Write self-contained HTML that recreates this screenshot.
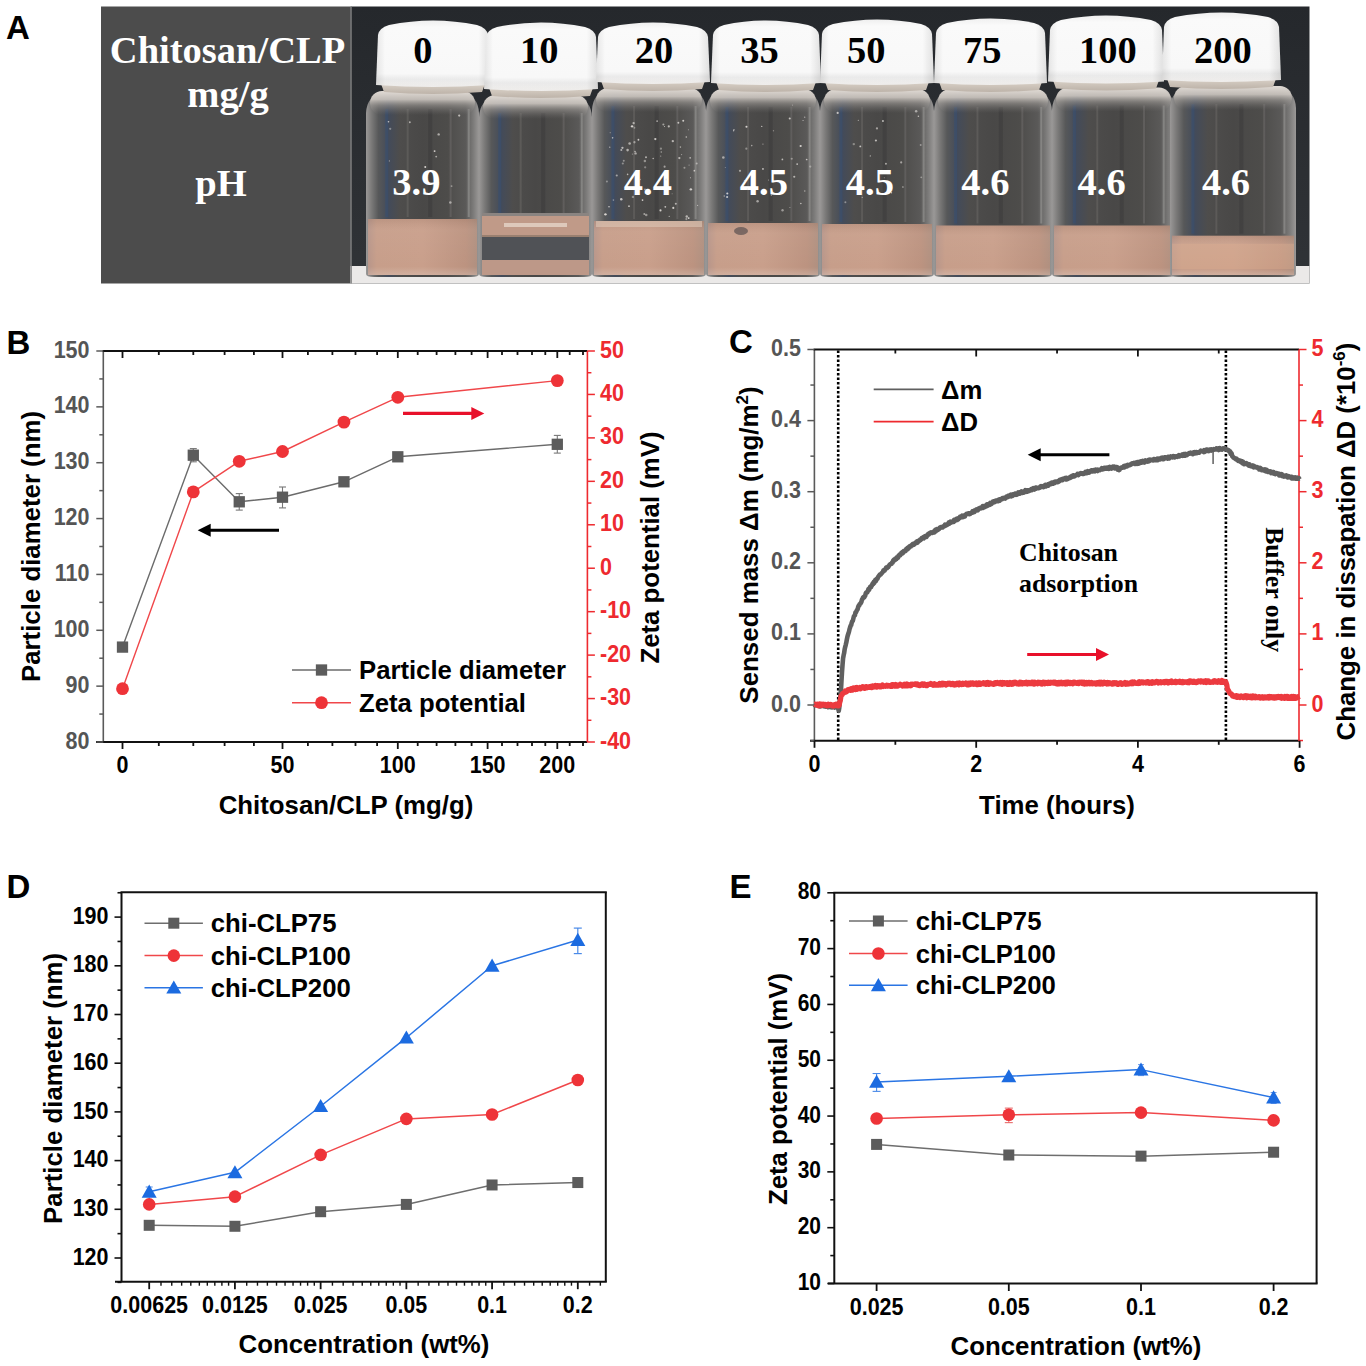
<!DOCTYPE html><html><head><meta charset="utf-8"><style>html,body{margin:0;padding:0;background:#fff;width:1366px;height:1366px;overflow:hidden}svg{display:block}</style></head><body>
<svg width="1366" height="1366" viewBox="0 0 1366 1366">
<rect width="1366" height="1366" fill="#fff"/>
<text x="6.4" y="353.5" font-family="Liberation Sans, sans-serif" font-weight="bold" font-size="33" fill="#000" text-anchor="start" >B</text>
<text x="729" y="353.3" font-family="Liberation Sans, sans-serif" font-weight="bold" font-size="33" fill="#000" text-anchor="start" >C</text>
<text x="6.4" y="897.7" font-family="Liberation Sans, sans-serif" font-weight="bold" font-size="33" fill="#000" text-anchor="start" >D</text>
<text x="729.5" y="897.7" font-family="Liberation Sans, sans-serif" font-weight="bold" font-size="33" fill="#000" text-anchor="start" >E</text>
<text x="6" y="39" font-family="Liberation Sans, sans-serif" font-weight="bold" font-size="33" fill="#000" text-anchor="start" >A</text>
<defs>
<linearGradient id="bgA" x1="0" y1="0" x2="0" y2="1"><stop offset="0" stop-color="#25282c"/><stop offset="0.6" stop-color="#2c2f33"/><stop offset="1" stop-color="#303337"/></linearGradient>
<linearGradient id="capG" x1="0" y1="0" x2="0" y2="1"><stop offset="0" stop-color="#f4f4f4"/><stop offset="0.1" stop-color="#ffffff"/><stop offset="0.8" stop-color="#fdfdfd"/><stop offset="0.88" stop-color="#efefef"/><stop offset="1" stop-color="#f4f2f0"/></linearGradient>
<linearGradient id="capH" x1="0" y1="0" x2="1" y2="0"><stop offset="0" stop-color="#000" stop-opacity="0.10"/><stop offset="0.08" stop-color="#000" stop-opacity="0.02"/><stop offset="0.9" stop-color="#000" stop-opacity="0.02"/><stop offset="1" stop-color="#000" stop-opacity="0.12"/></linearGradient>
<linearGradient id="ringG" x1="0" y1="0" x2="0" y2="1"><stop offset="0" stop-color="#e3dcd5"/><stop offset="0.5" stop-color="#cfc6bc"/><stop offset="1" stop-color="#bdb3a9"/></linearGradient>
<linearGradient id="glassG" x1="0" y1="0" x2="1" y2="0"><stop offset="0" stop-color="#9a9897"/><stop offset="0.05" stop-color="#7a7978"/><stop offset="0.11" stop-color="#575859"/><stop offset="0.2" stop-color="#434b5a"/><stop offset="0.3" stop-color="#4e4d4c"/><stop offset="0.5" stop-color="#494847"/><stop offset="0.72" stop-color="#4d4c4a"/><stop offset="0.88" stop-color="#5a5958"/><stop offset="0.95" stop-color="#7c7b7a"/><stop offset="1" stop-color="#9a9897"/></linearGradient>
<linearGradient id="shoulderG" x1="0" y1="0" x2="0" y2="1"><stop offset="0" stop-color="#e2dcd6" stop-opacity="1"/><stop offset="0.35" stop-color="#cdc7c1" stop-opacity="0.9"/><stop offset="0.6" stop-color="#9d9995" stop-opacity="0.6"/><stop offset="1" stop-color="#777574" stop-opacity="0"/></linearGradient>
<linearGradient id="liqG" x1="0" y1="0" x2="1" y2="0"><stop offset="0" stop-color="#b8968a"/><stop offset="0.08" stop-color="#c79e8a"/><stop offset="0.5" stop-color="#c99f8b"/><stop offset="0.9" stop-color="#bc9380"/><stop offset="1" stop-color="#b09080"/></linearGradient>
<linearGradient id="liqV" x1="0" y1="0" x2="0" y2="1"><stop offset="0" stop-color="#000" stop-opacity="0.06"/><stop offset="0.2" stop-color="#fff" stop-opacity="0.04"/><stop offset="0.85" stop-color="#fff" stop-opacity="0"/><stop offset="1" stop-color="#fff" stop-opacity="0.18"/></linearGradient>
</defs>
<rect x="101" y="6.5" width="249.5" height="277" fill="#4c4c4c"/>
<rect x="350.5" y="6.5" width="959" height="277" fill="url(#bgA)"/>
<rect x="350.5" y="266" width="959" height="17.5" fill="#ebe9e8"/>
<line x1="351.2" y1="6.5" x2="351.2" y2="283.5" stroke="#7a7a7a" stroke-width="1.2"/>
<path d="M366,274 L366,113 Q367,95 384,92 L461,92 Q478,95 479,113 L479,274 Q479,277 471,277 L374,277 Q366,277 366,274 Z" fill="url(#glassG)"/>

<rect x="385.21" y="109" width="3" height="108" fill="#2d4f80" opacity="0.35"/>
<rect x="406.68" y="109" width="2" height="108" fill="#8a8784" opacity="0.25"/>
<rect x="428.15" y="109" width="4" height="108" fill="#222" opacity="0.18"/>
<rect x="449.62" y="109" width="2" height="108" fill="#9a9794" opacity="0.22"/>
<rect x="467.7" y="109" width="2" height="108" fill="#b0aeac" opacity="0.4"/>
<rect x="370" y="91" width="105" height="24" fill="url(#shoulderG)" rx="12"/>
<rect x="368" y="219" width="109" height="56" fill="url(#liqG)"/>
<rect x="368" y="219" width="109" height="56" fill="url(#liqV)"/>
<path d="M380,81 L486,81 L482,92 Q433.0,96 384,92 Z" fill="url(#ringG)"/>
<path d="M376,85 L378,35 Q379,28 389,25 Q433.0,16 477,25 Q487,28 488,35 L490,85 Q433.0,89 376,85 Z" fill="url(#capG)"/>
<path d="M376,85 L378,35 Q379,28 389,25 Q433.0,16 477,25 Q487,28 488,35 L490,85 Q433.0,89 376,85 Z" fill="url(#capH)"/>
<text x="422.8" y="63" font-family="Liberation Serif, serif" font-weight="bold" font-size="38.5" fill="#000" text-anchor="middle" >0</text>
<text x="416.4" y="195.2" font-family="Liberation Serif, serif" font-weight="bold" font-size="38.5" fill="#fff" text-anchor="middle" >3.9</text>
<path d="M479,274 L479,117 Q480,99 497,96 L574,96 Q591,99 592,117 L592,274 Q592,277 584,277 L487,277 Q479,277 479,274 Z" fill="url(#glassG)"/>

<rect x="498.21" y="113" width="3" height="101" fill="#2d4f80" opacity="0.35"/>
<rect x="519.68" y="113" width="2" height="101" fill="#8a8784" opacity="0.25"/>
<rect x="541.15" y="113" width="4" height="101" fill="#222" opacity="0.18"/>
<rect x="562.62" y="113" width="2" height="101" fill="#9a9794" opacity="0.22"/>
<rect x="580.7" y="113" width="2" height="101" fill="#b0aeac" opacity="0.4"/>
<rect x="483" y="95" width="105" height="24" fill="url(#shoulderG)" rx="12"/>
<rect x="482" y="213" width="107" height="4" fill="#8a8481"/>
<rect x="482" y="216" width="107" height="20" fill="#c09a88"/>
<rect x="504" y="223" width="63" height="4" fill="#e8d8cc" opacity="0.75"/>
<rect x="482" y="235" width="107" height="25" fill="#505256"/>
<rect x="482" y="235" width="107" height="2" fill="#9a8070"/>
<rect x="482" y="260" width="107" height="15" fill="#bd9888"/>
<path d="M488,85 L594,85 L590,96 Q541.0,100 492,96 Z" fill="url(#ringG)"/>
<path d="M484,89 L486,37 Q487,30 497,27 Q541.0,18 585,27 Q595,30 596,37 L598,89 Q541.0,93 484,89 Z" fill="url(#capG)"/>
<path d="M484,89 L486,37 Q487,30 497,27 Q541.0,18 585,27 Q595,30 596,37 L598,89 Q541.0,93 484,89 Z" fill="url(#capH)"/>
<text x="539.2" y="63" font-family="Liberation Serif, serif" font-weight="bold" font-size="38.5" fill="#000" text-anchor="middle" >10</text>
<path d="M592,274 L592,110 Q593,92 610,89 L688,89 Q705,92 706,110 L706,274 Q706,277 698,277 L600,277 Q592,277 592,274 Z" fill="url(#glassG)"/>

<rect x="611.38" y="106" width="3" height="113" fill="#2d4f80" opacity="0.35"/>
<rect x="633.04" y="106" width="2" height="113" fill="#8a8784" opacity="0.25"/>
<rect x="654.7" y="106" width="4" height="113" fill="#222" opacity="0.18"/>
<rect x="676.36" y="106" width="2" height="113" fill="#9a9794" opacity="0.22"/>
<rect x="694.6" y="106" width="2" height="113" fill="#b0aeac" opacity="0.4"/>
<rect x="596" y="88" width="106" height="24" fill="url(#shoulderG)" rx="12"/>
<rect x="594" y="221" width="110" height="54" fill="url(#liqG)"/>
<rect x="594" y="221" width="110" height="54" fill="url(#liqV)"/>
<rect x="596" y="221" width="106" height="6" fill="#ddc8b8" opacity="0.6"/>
<path d="M600,78 L706,78 L702,89 Q653.0,93 604,89 Z" fill="url(#ringG)"/>
<path d="M596,82 L598,37 Q599,30 609,27 Q653.0,18 697,27 Q707,30 708,37 L710,82 Q653.0,86 596,82 Z" fill="url(#capG)"/>
<path d="M596,82 L598,37 Q599,30 609,27 Q653.0,18 697,27 Q707,30 708,37 L710,82 Q653.0,86 596,82 Z" fill="url(#capH)"/>
<text x="654" y="63" font-family="Liberation Serif, serif" font-weight="bold" font-size="38.5" fill="#000" text-anchor="middle" >20</text>
<text x="647.9" y="195.2" font-family="Liberation Serif, serif" font-weight="bold" font-size="38.5" fill="#fff" text-anchor="middle" >4.4</text>
<path d="M706,274 L706,111 Q707,93 724,90 L802,90 Q819,93 820,111 L820,274 Q820,277 812,277 L714,277 Q706,277 706,274 Z" fill="url(#glassG)"/>

<rect x="725.38" y="107" width="3" height="114" fill="#2d4f80" opacity="0.35"/>
<rect x="747.04" y="107" width="2" height="114" fill="#8a8784" opacity="0.25"/>
<rect x="768.7" y="107" width="4" height="114" fill="#222" opacity="0.18"/>
<rect x="790.36" y="107" width="2" height="114" fill="#9a9794" opacity="0.22"/>
<rect x="808.6" y="107" width="2" height="114" fill="#b0aeac" opacity="0.4"/>
<rect x="710" y="89" width="106" height="24" fill="url(#shoulderG)" rx="12"/>
<rect x="708" y="223" width="110" height="52" fill="url(#liqG)"/>
<rect x="708" y="223" width="110" height="52" fill="url(#liqV)"/>
<ellipse cx="741" cy="231" rx="7" ry="4" fill="#5a5050" opacity="0.7"/>
<path d="M715,79 L817,79 L813,90 Q766.0,94 719,90 Z" fill="url(#ringG)"/>
<path d="M711,83 L713,35 Q714,28 724,25 Q766.0,16 808,25 Q818,28 819,35 L821,83 Q766.0,87 711,83 Z" fill="url(#capG)"/>
<path d="M711,83 L713,35 Q714,28 724,25 Q766.0,16 808,25 Q818,28 819,35 L821,83 Q766.0,87 711,83 Z" fill="url(#capH)"/>
<text x="759.5" y="63" font-family="Liberation Serif, serif" font-weight="bold" font-size="38.5" fill="#000" text-anchor="middle" >35</text>
<text x="763.9" y="195.2" font-family="Liberation Serif, serif" font-weight="bold" font-size="38.5" fill="#fff" text-anchor="middle" >4.5</text>
<path d="M820,274 L820,111 Q821,93 838,90 L916,90 Q933,93 934,111 L934,274 Q934,277 926,277 L828,277 Q820,277 820,274 Z" fill="url(#glassG)"/>

<rect x="839.38" y="107" width="3" height="115" fill="#2d4f80" opacity="0.35"/>
<rect x="861.04" y="107" width="2" height="115" fill="#8a8784" opacity="0.25"/>
<rect x="882.7" y="107" width="4" height="115" fill="#222" opacity="0.18"/>
<rect x="904.36" y="107" width="2" height="115" fill="#9a9794" opacity="0.22"/>
<rect x="922.6" y="107" width="2" height="115" fill="#b0aeac" opacity="0.4"/>
<rect x="824" y="89" width="106" height="24" fill="url(#shoulderG)" rx="12"/>
<rect x="822" y="224" width="110" height="51" fill="url(#liqG)"/>
<rect x="822" y="224" width="110" height="51" fill="url(#liqV)"/>
<path d="M824,79 L930,79 L926,90 Q877.0,94 828,90 Z" fill="url(#ringG)"/>
<path d="M820,83 L822,34 Q823,27 833,24 Q877.0,15 921,24 Q931,27 932,34 L934,83 Q877.0,87 820,83 Z" fill="url(#capG)"/>
<path d="M820,83 L822,34 Q823,27 833,24 Q877.0,15 921,24 Q931,27 932,34 L934,83 Q877.0,87 820,83 Z" fill="url(#capH)"/>
<text x="866.2" y="63" font-family="Liberation Serif, serif" font-weight="bold" font-size="38.5" fill="#000" text-anchor="middle" >50</text>
<text x="869.9" y="195.2" font-family="Liberation Serif, serif" font-weight="bold" font-size="38.5" fill="#fff" text-anchor="middle" >4.5</text>
<path d="M934,274 L934,111 Q935,93 952,90 L1034,90 Q1051,93 1052,111 L1052,274 Q1052,277 1044,277 L942,277 Q934,277 934,274 Z" fill="url(#glassG)"/>

<rect x="954.06" y="107" width="3" height="116.5" fill="#2d4f80" opacity="0.35"/>
<rect x="976.48" y="107" width="2" height="116.5" fill="#8a8784" opacity="0.25"/>
<rect x="998.9" y="107" width="4" height="116.5" fill="#222" opacity="0.18"/>
<rect x="1021.32" y="107" width="2" height="116.5" fill="#9a9794" opacity="0.22"/>
<rect x="1040.2" y="107" width="2" height="116.5" fill="#b0aeac" opacity="0.4"/>
<rect x="938" y="89" width="110" height="24" fill="url(#shoulderG)" rx="12"/>
<rect x="936" y="225.5" width="114" height="49.5" fill="url(#liqG)"/>
<rect x="936" y="225.5" width="114" height="49.5" fill="url(#liqV)"/>
<path d="M938,79 L1043,79 L1039,90 Q990.5,94 942,90 Z" fill="url(#ringG)"/>
<path d="M934,83 L936,33 Q937,26 947,23 Q990.5,14 1034,23 Q1044,26 1045,33 L1047,83 Q990.5,87 934,83 Z" fill="url(#capG)"/>
<path d="M934,83 L936,33 Q937,26 947,23 Q990.5,14 1034,23 Q1044,26 1045,33 L1047,83 Q990.5,87 934,83 Z" fill="url(#capH)"/>
<text x="982.2" y="63" font-family="Liberation Serif, serif" font-weight="bold" font-size="38.5" fill="#000" text-anchor="middle" >75</text>
<text x="985.4" y="195.2" font-family="Liberation Serif, serif" font-weight="bold" font-size="38.5" fill="#fff" text-anchor="middle" >4.6</text>
<path d="M1052,274 L1052,109.5 Q1053,91.5 1070,88.5 L1157,88.5 Q1174,91.5 1175,109.5 L1175,274 Q1175,277 1167,277 L1060,277 Q1052,277 1052,274 Z" fill="url(#glassG)"/>

<rect x="1072.91" y="105.5" width="3" height="118.0" fill="#2d4f80" opacity="0.35"/>
<rect x="1096.28" y="105.5" width="2" height="118.0" fill="#8a8784" opacity="0.25"/>
<rect x="1119.65" y="105.5" width="4" height="118.0" fill="#222" opacity="0.18"/>
<rect x="1143.02" y="105.5" width="2" height="118.0" fill="#9a9794" opacity="0.22"/>
<rect x="1162.7" y="105.5" width="2" height="118.0" fill="#b0aeac" opacity="0.4"/>
<rect x="1056" y="87.5" width="115" height="24" fill="url(#shoulderG)" rx="12"/>
<rect x="1054" y="225.5" width="119" height="49.5" fill="url(#liqG)"/>
<rect x="1054" y="225.5" width="119" height="49.5" fill="url(#liqV)"/>
<path d="M1052,77.5 L1160,77.5 L1156,88.5 Q1106.0,92.5 1056,88.5 Z" fill="url(#ringG)"/>
<path d="M1048,81.5 L1050,30 Q1051,23 1061,20 Q1106.0,11 1151,20 Q1161,23 1162,30 L1164,81.5 Q1106.0,85.5 1048,81.5 Z" fill="url(#capG)"/>
<path d="M1048,81.5 L1050,30 Q1051,23 1061,20 Q1106.0,11 1151,20 Q1161,23 1162,30 L1164,81.5 Q1106.0,85.5 1048,81.5 Z" fill="url(#capH)"/>
<text x="1107.9" y="63" font-family="Liberation Serif, serif" font-weight="bold" font-size="38.5" fill="#000" text-anchor="middle" >100</text>
<text x="1101.6" y="195.2" font-family="Liberation Serif, serif" font-weight="bold" font-size="38.5" fill="#fff" text-anchor="middle" >4.6</text>
<path d="M1170,274 L1170,108 Q1171,90 1188,87 L1278,87 Q1295,90 1296,108 L1296,274 Q1296,277 1288,277 L1178,277 Q1170,277 1170,274 Z" fill="url(#glassG)"/>

<rect x="1191.42" y="104" width="3" height="129.7" fill="#2d4f80" opacity="0.35"/>
<rect x="1215.36" y="104" width="2" height="129.7" fill="#8a8784" opacity="0.25"/>
<rect x="1239.3" y="104" width="4" height="129.7" fill="#222" opacity="0.18"/>
<rect x="1263.24" y="104" width="2" height="129.7" fill="#9a9794" opacity="0.22"/>
<rect x="1283.4" y="104" width="2" height="129.7" fill="#b0aeac" opacity="0.4"/>
<rect x="1174" y="86" width="118" height="24" fill="url(#shoulderG)" rx="12"/>
<rect x="1172" y="235.7" width="122" height="39.30000000000001" fill="url(#liqG)"/>
<rect x="1172" y="243.7" width="122" height="25.30000000000001" fill="#e0b090" opacity="0.35"/>
<rect x="1172" y="235.7" width="122" height="39.30000000000001" fill="url(#liqV)"/>
<path d="M1166,76 L1277,76 L1273,87 Q1221.5,91 1170,87 Z" fill="url(#ringG)"/>
<path d="M1162,80 L1164,27 Q1165,20 1175,17 Q1221.5,8 1268,17 Q1278,20 1279,27 L1281,80 Q1221.5,84 1162,80 Z" fill="url(#capG)"/>
<path d="M1162,80 L1164,27 Q1165,20 1175,17 Q1221.5,8 1268,17 Q1278,20 1279,27 L1281,80 Q1221.5,84 1162,80 Z" fill="url(#capH)"/>
<text x="1222.8" y="63" font-family="Liberation Serif, serif" font-weight="bold" font-size="38.5" fill="#000" text-anchor="middle" >200</text>
<text x="1226" y="195.2" font-family="Liberation Serif, serif" font-weight="bold" font-size="38.5" fill="#fff" text-anchor="middle" >4.6</text>
<circle cx="627.61" cy="174.42" r="0.8" fill="#e8e4e0" opacity="0.7"/>
<circle cx="664.44" cy="126.55" r="0.51" fill="#e8e4e0" opacity="0.82"/>
<circle cx="629.64" cy="143.43" r="1.3" fill="#e8e4e0" opacity="0.64"/>
<circle cx="684.46" cy="167.64" r="1.01" fill="#e8e4e0" opacity="0.48"/>
<circle cx="665.31" cy="206.8" r="0.92" fill="#e8e4e0" opacity="0.77"/>
<circle cx="668.78" cy="126.4" r="1.11" fill="#e8e4e0" opacity="0.7"/>
<circle cx="633.62" cy="123.1" r="1.19" fill="#e8e4e0" opacity="0.64"/>
<circle cx="673.29" cy="207.88" r="1.07" fill="#e8e4e0" opacity="0.86"/>
<circle cx="642.52" cy="200.09" r="0.86" fill="#e8e4e0" opacity="0.87"/>
<circle cx="688.49" cy="129.75" r="0.61" fill="#e8e4e0" opacity="0.51"/>
<circle cx="696.72" cy="163.62" r="1" fill="#e8e4e0" opacity="0.55"/>
<circle cx="653.19" cy="158.59" r="0.78" fill="#e8e4e0" opacity="0.69"/>
<circle cx="660.5" cy="210.42" r="1.05" fill="#e8e4e0" opacity="0.86"/>
<circle cx="686.36" cy="219.1" r="1.04" fill="#e8e4e0" opacity="0.48"/>
<circle cx="686.76" cy="216.46" r="1.22" fill="#e8e4e0" opacity="0.68"/>
<circle cx="672.81" cy="141.11" r="1.17" fill="#e8e4e0" opacity="0.69"/>
<circle cx="632.07" cy="126.35" r="1.18" fill="#e8e4e0" opacity="0.89"/>
<circle cx="613.41" cy="200.06" r="0.83" fill="#e8e4e0" opacity="0.48"/>
<circle cx="632.92" cy="196.88" r="1.2" fill="#e8e4e0" opacity="0.42"/>
<circle cx="663.38" cy="124.49" r="1.07" fill="#e8e4e0" opacity="0.57"/>
<circle cx="688.69" cy="218.06" r="0.9" fill="#e8e4e0" opacity="0.9"/>
<circle cx="634.42" cy="127.7" r="0.98" fill="#e8e4e0" opacity="0.42"/>
<circle cx="623.75" cy="160.79" r="0.99" fill="#e8e4e0" opacity="0.48"/>
<circle cx="609.03" cy="206.78" r="0.75" fill="#e8e4e0" opacity="0.88"/>
<circle cx="690.18" cy="157.78" r="0.87" fill="#e8e4e0" opacity="0.66"/>
<circle cx="666.17" cy="179.57" r="0.95" fill="#e8e4e0" opacity="0.71"/>
<circle cx="694.36" cy="170.7" r="0.84" fill="#e8e4e0" opacity="0.76"/>
<circle cx="627.58" cy="150.11" r="1.28" fill="#e8e4e0" opacity="0.66"/>
<circle cx="657.1" cy="121.15" r="0.83" fill="#e8e4e0" opacity="0.69"/>
<circle cx="606.91" cy="181.58" r="1.01" fill="#e8e4e0" opacity="0.43"/>
<circle cx="664.6" cy="166.63" r="1.04" fill="#e8e4e0" opacity="0.58"/>
<circle cx="672.16" cy="193.8" r="0.52" fill="#e8e4e0" opacity="0.43"/>
<circle cx="669.22" cy="216.33" r="0.7" fill="#e8e4e0" opacity="0.63"/>
<circle cx="661.3" cy="152" r="0.79" fill="#e8e4e0" opacity="0.56"/>
<circle cx="640.07" cy="179.56" r="0.74" fill="#e8e4e0" opacity="0.59"/>
<circle cx="678.37" cy="122.69" r="0.96" fill="#e8e4e0" opacity="0.77"/>
<circle cx="634.45" cy="142.25" r="1.14" fill="#e8e4e0" opacity="0.52"/>
<circle cx="622.8" cy="163.52" r="1.06" fill="#e8e4e0" opacity="0.45"/>
<circle cx="635.59" cy="153.38" r="1.17" fill="#e8e4e0" opacity="0.62"/>
<circle cx="686.28" cy="136.93" r="0.77" fill="#e8e4e0" opacity="0.73"/>
<circle cx="689.07" cy="165.11" r="0.68" fill="#e8e4e0" opacity="0.46"/>
<circle cx="655.31" cy="139.08" r="1.15" fill="#e8e4e0" opacity="0.82"/>
<circle cx="622.44" cy="147.86" r="1.15" fill="#e8e4e0" opacity="0.72"/>
<circle cx="681.59" cy="154.53" r="0.6" fill="#e8e4e0" opacity="0.55"/>
<circle cx="680.42" cy="147.12" r="0.78" fill="#e8e4e0" opacity="0.61"/>
<circle cx="644.88" cy="160.95" r="1.24" fill="#e8e4e0" opacity="0.48"/>
<circle cx="605.44" cy="214.33" r="1.2" fill="#e8e4e0" opacity="0.89"/>
<circle cx="646.26" cy="215.02" r="1.24" fill="#e8e4e0" opacity="0.51"/>
<circle cx="675.82" cy="203.67" r="1.03" fill="#e8e4e0" opacity="0.66"/>
<circle cx="632.46" cy="154.11" r="0.68" fill="#e8e4e0" opacity="0.43"/>
<circle cx="660.92" cy="148.7" r="1.15" fill="#e8e4e0" opacity="0.42"/>
<circle cx="690.84" cy="189.37" r="1.24" fill="#e8e4e0" opacity="0.85"/>
<circle cx="690.47" cy="177.7" r="0.51" fill="#e8e4e0" opacity="0.77"/>
<circle cx="621.32" cy="149.99" r="1.03" fill="#e8e4e0" opacity="0.66"/>
<circle cx="644.31" cy="213.9" r="0.99" fill="#e8e4e0" opacity="0.57"/>
<circle cx="628.99" cy="206.17" r="0.88" fill="#e8e4e0" opacity="0.79"/>
<circle cx="638.42" cy="139.73" r="0.93" fill="#e8e4e0" opacity="0.81"/>
<circle cx="621.27" cy="199.17" r="1.24" fill="#e8e4e0" opacity="0.8"/>
<circle cx="683.23" cy="120.75" r="1" fill="#e8e4e0" opacity="0.83"/>
<circle cx="609.74" cy="147.14" r="0.71" fill="#e8e4e0" opacity="0.66"/>
<circle cx="645.18" cy="167.29" r="1.12" fill="#e8e4e0" opacity="0.4"/>
<circle cx="610.21" cy="132.69" r="0.6" fill="#e8e4e0" opacity="0.43"/>
<circle cx="697.6" cy="205.44" r="0.57" fill="#e8e4e0" opacity="0.65"/>
<circle cx="635.01" cy="151.46" r="0.78" fill="#e8e4e0" opacity="0.72"/>
<circle cx="660.73" cy="156.08" r="0.65" fill="#e8e4e0" opacity="0.56"/>
<circle cx="616.76" cy="175.55" r="1.07" fill="#e8e4e0" opacity="0.59"/>
<circle cx="612.59" cy="137.86" r="0.8" fill="#e8e4e0" opacity="0.7"/>
<circle cx="679.35" cy="158.03" r="1.14" fill="#e8e4e0" opacity="0.71"/>
<circle cx="646" cy="157.24" r="0.9" fill="#e8e4e0" opacity="0.75"/>
<circle cx="644.95" cy="189.41" r="0.87" fill="#e8e4e0" opacity="0.52"/>
<circle cx="768.58" cy="179.94" r="0.56" fill="#e8e4e0" opacity="0.61"/>
<circle cx="757.59" cy="201.16" r="1.25" fill="#e8e4e0" opacity="0.59"/>
<circle cx="804.79" cy="190.96" r="0.71" fill="#e8e4e0" opacity="0.63"/>
<circle cx="727.31" cy="193.52" r="1.03" fill="#e8e4e0" opacity="0.84"/>
<circle cx="794.25" cy="176.77" r="1.09" fill="#e8e4e0" opacity="0.68"/>
<circle cx="725.31" cy="167.59" r="0.5" fill="#e8e4e0" opacity="0.47"/>
<circle cx="792.43" cy="105.1" r="0.57" fill="#e8e4e0" opacity="0.45"/>
<circle cx="803.05" cy="120.6" r="0.52" fill="#e8e4e0" opacity="0.82"/>
<circle cx="727.13" cy="197.05" r="1.04" fill="#e8e4e0" opacity="0.82"/>
<circle cx="810.24" cy="166.59" r="1.14" fill="#e8e4e0" opacity="0.42"/>
<circle cx="791.74" cy="158.8" r="1.07" fill="#e8e4e0" opacity="0.45"/>
<circle cx="789.9" cy="207.47" r="0.55" fill="#e8e4e0" opacity="0.56"/>
<circle cx="771.4" cy="195.23" r="0.69" fill="#e8e4e0" opacity="0.49"/>
<circle cx="740" cy="170.84" r="1.1" fill="#e8e4e0" opacity="0.6"/>
<circle cx="751.75" cy="145.61" r="0.78" fill="#e8e4e0" opacity="0.61"/>
<circle cx="723.33" cy="157.54" r="1.28" fill="#e8e4e0" opacity="0.61"/>
<circle cx="789.74" cy="118.47" r="1.05" fill="#e8e4e0" opacity="0.78"/>
<circle cx="782.39" cy="159.47" r="0.89" fill="#e8e4e0" opacity="0.72"/>
<circle cx="804.74" cy="117.17" r="0.58" fill="#e8e4e0" opacity="0.77"/>
<circle cx="806.66" cy="159.48" r="0.85" fill="#e8e4e0" opacity="0.76"/>
<circle cx="733.61" cy="130.75" r="0.66" fill="#e8e4e0" opacity="0.69"/>
<circle cx="746.48" cy="126.72" r="1.05" fill="#e8e4e0" opacity="0.88"/>
<circle cx="744.59" cy="181.11" r="0.83" fill="#e8e4e0" opacity="0.83"/>
<circle cx="773.46" cy="130.72" r="0.67" fill="#e8e4e0" opacity="0.41"/>
<circle cx="762.95" cy="144.02" r="0.64" fill="#e8e4e0" opacity="0.58"/>
<circle cx="747.2" cy="189.03" r="0.61" fill="#e8e4e0" opacity="0.9"/>
<circle cx="762.96" cy="168.89" r="0.87" fill="#e8e4e0" opacity="0.82"/>
<circle cx="797.16" cy="164.07" r="0.89" fill="#e8e4e0" opacity="0.76"/>
<circle cx="800.66" cy="146.03" r="1.09" fill="#e8e4e0" opacity="0.88"/>
<circle cx="761.74" cy="126.4" r="0.69" fill="#e8e4e0" opacity="0.76"/>
<circle cx="782.54" cy="210.25" r="1.18" fill="#e8e4e0" opacity="0.52"/>
<circle cx="733.96" cy="129.74" r="0.65" fill="#e8e4e0" opacity="0.75"/>
<circle cx="800.86" cy="203.47" r="0.7" fill="#e8e4e0" opacity="0.83"/>
<circle cx="746.34" cy="148.68" r="1.08" fill="#e8e4e0" opacity="0.44"/>
<circle cx="724.26" cy="195.9" r="0.73" fill="#e8e4e0" opacity="0.58"/>
<circle cx="884.29" cy="177.68" r="0.51" fill="#e8e4e0" opacity="0.57"/>
<circle cx="870.31" cy="155.88" r="0.67" fill="#e8e4e0" opacity="0.69"/>
<circle cx="920.67" cy="144.96" r="0.94" fill="#e8e4e0" opacity="0.46"/>
<circle cx="854.65" cy="176.52" r="0.59" fill="#e8e4e0" opacity="0.84"/>
<circle cx="916.15" cy="111.14" r="1.25" fill="#e8e4e0" opacity="0.59"/>
<circle cx="902.92" cy="187.09" r="0.74" fill="#e8e4e0" opacity="0.74"/>
<circle cx="891.45" cy="192.7" r="0.71" fill="#e8e4e0" opacity="0.78"/>
<circle cx="921.25" cy="177.37" r="0.93" fill="#e8e4e0" opacity="0.46"/>
<circle cx="875.91" cy="140.5" r="1.07" fill="#e8e4e0" opacity="0.74"/>
<circle cx="882.94" cy="120.93" r="1.02" fill="#e8e4e0" opacity="0.72"/>
<circle cx="845.37" cy="202.34" r="1.02" fill="#e8e4e0" opacity="0.46"/>
<circle cx="918.39" cy="116.26" r="0.77" fill="#e8e4e0" opacity="0.76"/>
<circle cx="885.95" cy="163.82" r="1.02" fill="#e8e4e0" opacity="0.63"/>
<circle cx="858.31" cy="120.28" r="0.55" fill="#e8e4e0" opacity="0.76"/>
<circle cx="901.18" cy="162.46" r="1.09" fill="#e8e4e0" opacity="0.58"/>
<circle cx="853.79" cy="144.09" r="1.2" fill="#e8e4e0" opacity="0.42"/>
<circle cx="876.96" cy="128.43" r="1.12" fill="#e8e4e0" opacity="0.58"/>
<circle cx="860.29" cy="146.38" r="0.93" fill="#e8e4e0" opacity="0.79"/>
<circle cx="862.23" cy="197.39" r="0.59" fill="#e8e4e0" opacity="0.54"/>
<circle cx="837.67" cy="112.96" r="1.12" fill="#e8e4e0" opacity="0.76"/>
<circle cx="388.48" cy="121.75" r="0.83" fill="#e8e4e0" opacity="0.77"/>
<circle cx="451.57" cy="186.1" r="0.97" fill="#e8e4e0" opacity="0.47"/>
<circle cx="409.84" cy="122.27" r="0.92" fill="#e8e4e0" opacity="0.68"/>
<circle cx="390.21" cy="128.77" r="1.13" fill="#e8e4e0" opacity="0.42"/>
<circle cx="450.32" cy="202.49" r="1.26" fill="#e8e4e0" opacity="0.59"/>
<circle cx="425.26" cy="167.05" r="1.01" fill="#e8e4e0" opacity="0.89"/>
<circle cx="438.66" cy="134.43" r="1.19" fill="#e8e4e0" opacity="0.64"/>
<circle cx="430.14" cy="183.59" r="0.5" fill="#e8e4e0" opacity="0.79"/>
<circle cx="436.19" cy="156.57" r="0.92" fill="#e8e4e0" opacity="0.63"/>
<circle cx="389.34" cy="160.9" r="0.53" fill="#e8e4e0" opacity="0.65"/>
<circle cx="434.6" cy="151.09" r="0.95" fill="#e8e4e0" opacity="0.88"/>
<circle cx="459.21" cy="115.59" r="1.13" fill="#e8e4e0" opacity="0.71"/>
<text x="227.5" y="63.2" font-family="Liberation Serif, serif" font-weight="bold" font-size="38.5" fill="#fff" text-anchor="middle" >Chitosan/CLP</text>
<text x="228" y="106.5" font-family="Liberation Serif, serif" font-weight="bold" font-size="38.5" fill="#fff" text-anchor="middle" >mg/g</text>
<text x="221" y="196" font-family="Liberation Serif, serif" font-weight="bold" font-size="38.5" fill="#fff" text-anchor="middle" >pH</text>
<line x1="103.3" y1="351" x2="103.3" y2="742" stroke="#5a5a5a" stroke-width="1.6" />
<line x1="96" y1="742" x2="587.4" y2="742" stroke="#111" stroke-width="2" />
<line x1="102.5" y1="351" x2="587.4" y2="351" stroke="#111" stroke-width="2" />
<line x1="587.4" y1="351" x2="587.4" y2="742" stroke="#ee2a2f" stroke-width="1.6" />
<line x1="96.3" y1="742" x2="103.3" y2="742" stroke="#5a5a5a" stroke-width="1.5" />
<text x="0" y="0" font-family="Liberation Sans, sans-serif" font-weight="bold" font-size="21.5" fill="#555555" text-anchor="end" transform="translate(89.5,748.5) scale(1,1.1)">80</text>
<line x1="99.3" y1="714.07" x2="103.3" y2="714.07" stroke="#5a5a5a" stroke-width="1.5" />
<line x1="96.3" y1="686.14" x2="103.3" y2="686.14" stroke="#5a5a5a" stroke-width="1.5" />
<text x="0" y="0" font-family="Liberation Sans, sans-serif" font-weight="bold" font-size="21.5" fill="#555555" text-anchor="end" transform="translate(89.5,692.64) scale(1,1.1)">90</text>
<line x1="99.3" y1="658.21" x2="103.3" y2="658.21" stroke="#5a5a5a" stroke-width="1.5" />
<line x1="96.3" y1="630.29" x2="103.3" y2="630.29" stroke="#5a5a5a" stroke-width="1.5" />
<text x="0" y="0" font-family="Liberation Sans, sans-serif" font-weight="bold" font-size="21.5" fill="#555555" text-anchor="end" transform="translate(89.5,636.79) scale(1,1.1)">100</text>
<line x1="99.3" y1="602.36" x2="103.3" y2="602.36" stroke="#5a5a5a" stroke-width="1.5" />
<line x1="96.3" y1="574.43" x2="103.3" y2="574.43" stroke="#5a5a5a" stroke-width="1.5" />
<text x="0" y="0" font-family="Liberation Sans, sans-serif" font-weight="bold" font-size="21.5" fill="#555555" text-anchor="end" transform="translate(89.5,580.93) scale(1,1.1)">110</text>
<line x1="99.3" y1="546.5" x2="103.3" y2="546.5" stroke="#5a5a5a" stroke-width="1.5" />
<line x1="96.3" y1="518.57" x2="103.3" y2="518.57" stroke="#5a5a5a" stroke-width="1.5" />
<text x="0" y="0" font-family="Liberation Sans, sans-serif" font-weight="bold" font-size="21.5" fill="#555555" text-anchor="end" transform="translate(89.5,525.07) scale(1,1.1)">120</text>
<line x1="99.3" y1="490.64" x2="103.3" y2="490.64" stroke="#5a5a5a" stroke-width="1.5" />
<line x1="96.3" y1="462.71" x2="103.3" y2="462.71" stroke="#5a5a5a" stroke-width="1.5" />
<text x="0" y="0" font-family="Liberation Sans, sans-serif" font-weight="bold" font-size="21.5" fill="#555555" text-anchor="end" transform="translate(89.5,469.21) scale(1,1.1)">130</text>
<line x1="99.3" y1="434.79" x2="103.3" y2="434.79" stroke="#5a5a5a" stroke-width="1.5" />
<line x1="96.3" y1="406.86" x2="103.3" y2="406.86" stroke="#5a5a5a" stroke-width="1.5" />
<text x="0" y="0" font-family="Liberation Sans, sans-serif" font-weight="bold" font-size="21.5" fill="#555555" text-anchor="end" transform="translate(89.5,413.36) scale(1,1.1)">140</text>
<line x1="99.3" y1="378.93" x2="103.3" y2="378.93" stroke="#5a5a5a" stroke-width="1.5" />
<line x1="96.3" y1="351" x2="103.3" y2="351" stroke="#5a5a5a" stroke-width="1.5" />
<text x="0" y="0" font-family="Liberation Sans, sans-serif" font-weight="bold" font-size="21.5" fill="#555555" text-anchor="end" transform="translate(89.5,357.5) scale(1,1.1)">150</text>
<line x1="587.4" y1="742" x2="594.9" y2="742" stroke="#ee2a2f" stroke-width="1.5" />
<text x="0" y="0" font-family="Liberation Sans, sans-serif" font-weight="bold" font-size="21.5" fill="#ee2a2f" text-anchor="start" transform="translate(600,748.5) scale(1,1.1)">-40</text>
<line x1="587.4" y1="720.28" x2="591.4" y2="720.28" stroke="#ee2a2f" stroke-width="1.5" />
<line x1="587.4" y1="698.56" x2="594.9" y2="698.56" stroke="#ee2a2f" stroke-width="1.5" />
<text x="0" y="0" font-family="Liberation Sans, sans-serif" font-weight="bold" font-size="21.5" fill="#ee2a2f" text-anchor="start" transform="translate(600,705.06) scale(1,1.1)">-30</text>
<line x1="587.4" y1="676.83" x2="591.4" y2="676.83" stroke="#ee2a2f" stroke-width="1.5" />
<line x1="587.4" y1="655.11" x2="594.9" y2="655.11" stroke="#ee2a2f" stroke-width="1.5" />
<text x="0" y="0" font-family="Liberation Sans, sans-serif" font-weight="bold" font-size="21.5" fill="#ee2a2f" text-anchor="start" transform="translate(600,661.61) scale(1,1.1)">-20</text>
<line x1="587.4" y1="633.39" x2="591.4" y2="633.39" stroke="#ee2a2f" stroke-width="1.5" />
<line x1="587.4" y1="611.67" x2="594.9" y2="611.67" stroke="#ee2a2f" stroke-width="1.5" />
<text x="0" y="0" font-family="Liberation Sans, sans-serif" font-weight="bold" font-size="21.5" fill="#ee2a2f" text-anchor="start" transform="translate(600,618.17) scale(1,1.1)">-10</text>
<line x1="587.4" y1="589.94" x2="591.4" y2="589.94" stroke="#ee2a2f" stroke-width="1.5" />
<line x1="587.4" y1="568.22" x2="594.9" y2="568.22" stroke="#ee2a2f" stroke-width="1.5" />
<text x="0" y="0" font-family="Liberation Sans, sans-serif" font-weight="bold" font-size="21.5" fill="#ee2a2f" text-anchor="start" transform="translate(600,574.72) scale(1,1.1)">0</text>
<line x1="587.4" y1="546.5" x2="591.4" y2="546.5" stroke="#ee2a2f" stroke-width="1.5" />
<line x1="587.4" y1="524.78" x2="594.9" y2="524.78" stroke="#ee2a2f" stroke-width="1.5" />
<text x="0" y="0" font-family="Liberation Sans, sans-serif" font-weight="bold" font-size="21.5" fill="#ee2a2f" text-anchor="start" transform="translate(600,531.28) scale(1,1.1)">10</text>
<line x1="587.4" y1="503.06" x2="591.4" y2="503.06" stroke="#ee2a2f" stroke-width="1.5" />
<line x1="587.4" y1="481.33" x2="594.9" y2="481.33" stroke="#ee2a2f" stroke-width="1.5" />
<text x="0" y="0" font-family="Liberation Sans, sans-serif" font-weight="bold" font-size="21.5" fill="#ee2a2f" text-anchor="start" transform="translate(600,487.83) scale(1,1.1)">20</text>
<line x1="587.4" y1="459.61" x2="591.4" y2="459.61" stroke="#ee2a2f" stroke-width="1.5" />
<line x1="587.4" y1="437.89" x2="594.9" y2="437.89" stroke="#ee2a2f" stroke-width="1.5" />
<text x="0" y="0" font-family="Liberation Sans, sans-serif" font-weight="bold" font-size="21.5" fill="#ee2a2f" text-anchor="start" transform="translate(600,444.39) scale(1,1.1)">30</text>
<line x1="587.4" y1="416.17" x2="591.4" y2="416.17" stroke="#ee2a2f" stroke-width="1.5" />
<line x1="587.4" y1="394.44" x2="594.9" y2="394.44" stroke="#ee2a2f" stroke-width="1.5" />
<text x="0" y="0" font-family="Liberation Sans, sans-serif" font-weight="bold" font-size="21.5" fill="#ee2a2f" text-anchor="start" transform="translate(600,400.94) scale(1,1.1)">40</text>
<line x1="587.4" y1="372.72" x2="591.4" y2="372.72" stroke="#ee2a2f" stroke-width="1.5" />
<line x1="587.4" y1="351" x2="594.9" y2="351" stroke="#ee2a2f" stroke-width="1.5" />
<text x="0" y="0" font-family="Liberation Sans, sans-serif" font-weight="bold" font-size="21.5" fill="#ee2a2f" text-anchor="start" transform="translate(600,357.5) scale(1,1.1)">50</text>
<line x1="122.5" y1="742" x2="122.5" y2="749" stroke="#111" stroke-width="1.8" />
<line x1="122.5" y1="351" x2="122.5" y2="358" stroke="#111" stroke-width="1.8" />
<line x1="158.8" y1="742" x2="158.8" y2="746" stroke="#111" stroke-width="1.8" />
<line x1="158.8" y1="351" x2="158.8" y2="355" stroke="#111" stroke-width="1.8" />
<line x1="193.3" y1="742" x2="193.3" y2="746" stroke="#111" stroke-width="1.8" />
<line x1="193.3" y1="351" x2="193.3" y2="355" stroke="#111" stroke-width="1.8" />
<line x1="224.6" y1="742" x2="224.6" y2="746" stroke="#111" stroke-width="1.8" />
<line x1="224.6" y1="351" x2="224.6" y2="355" stroke="#111" stroke-width="1.8" />
<line x1="253.9" y1="742" x2="253.9" y2="746" stroke="#111" stroke-width="1.8" />
<line x1="253.9" y1="351" x2="253.9" y2="355" stroke="#111" stroke-width="1.8" />
<line x1="282.5" y1="742" x2="282.5" y2="749" stroke="#111" stroke-width="1.8" />
<line x1="282.5" y1="351" x2="282.5" y2="358" stroke="#111" stroke-width="1.8" />
<line x1="307.9" y1="742" x2="307.9" y2="746" stroke="#111" stroke-width="1.8" />
<line x1="307.9" y1="351" x2="307.9" y2="355" stroke="#111" stroke-width="1.8" />
<line x1="332.4" y1="742" x2="332.4" y2="746" stroke="#111" stroke-width="1.8" />
<line x1="332.4" y1="351" x2="332.4" y2="355" stroke="#111" stroke-width="1.8" />
<line x1="355.5" y1="742" x2="355.5" y2="746" stroke="#111" stroke-width="1.8" />
<line x1="355.5" y1="351" x2="355.5" y2="355" stroke="#111" stroke-width="1.8" />
<line x1="377.1" y1="742" x2="377.1" y2="746" stroke="#111" stroke-width="1.8" />
<line x1="377.1" y1="351" x2="377.1" y2="355" stroke="#111" stroke-width="1.8" />
<line x1="397.8" y1="742" x2="397.8" y2="749" stroke="#111" stroke-width="1.8" />
<line x1="397.8" y1="351" x2="397.8" y2="358" stroke="#111" stroke-width="1.8" />
<line x1="417.7" y1="742" x2="417.7" y2="746" stroke="#111" stroke-width="1.8" />
<line x1="417.7" y1="351" x2="417.7" y2="355" stroke="#111" stroke-width="1.8" />
<line x1="436.6" y1="742" x2="436.6" y2="746" stroke="#111" stroke-width="1.8" />
<line x1="436.6" y1="351" x2="436.6" y2="355" stroke="#111" stroke-width="1.8" />
<line x1="455.4" y1="742" x2="455.4" y2="746" stroke="#111" stroke-width="1.8" />
<line x1="455.4" y1="351" x2="455.4" y2="355" stroke="#111" stroke-width="1.8" />
<line x1="471.6" y1="742" x2="471.6" y2="746" stroke="#111" stroke-width="1.8" />
<line x1="471.6" y1="351" x2="471.6" y2="355" stroke="#111" stroke-width="1.8" />
<line x1="487.6" y1="742" x2="487.6" y2="749" stroke="#111" stroke-width="1.8" />
<line x1="487.6" y1="351" x2="487.6" y2="358" stroke="#111" stroke-width="1.8" />
<line x1="502" y1="742" x2="502" y2="746" stroke="#111" stroke-width="1.8" />
<line x1="502" y1="351" x2="502" y2="355" stroke="#111" stroke-width="1.8" />
<line x1="517.5" y1="742" x2="517.5" y2="746" stroke="#111" stroke-width="1.8" />
<line x1="517.5" y1="351" x2="517.5" y2="355" stroke="#111" stroke-width="1.8" />
<line x1="532" y1="742" x2="532" y2="746" stroke="#111" stroke-width="1.8" />
<line x1="532" y1="351" x2="532" y2="355" stroke="#111" stroke-width="1.8" />
<line x1="545.3" y1="742" x2="545.3" y2="746" stroke="#111" stroke-width="1.8" />
<line x1="545.3" y1="351" x2="545.3" y2="355" stroke="#111" stroke-width="1.8" />
<line x1="557.3" y1="742" x2="557.3" y2="749" stroke="#111" stroke-width="1.8" />
<line x1="557.3" y1="351" x2="557.3" y2="358" stroke="#111" stroke-width="1.8" />
<line x1="569.7" y1="742" x2="569.7" y2="746" stroke="#111" stroke-width="1.8" />
<line x1="569.7" y1="351" x2="569.7" y2="355" stroke="#111" stroke-width="1.8" />
<line x1="583" y1="742" x2="583" y2="746" stroke="#111" stroke-width="1.8" />
<line x1="583" y1="351" x2="583" y2="355" stroke="#111" stroke-width="1.8" />
<text x="0" y="0" font-family="Liberation Sans, sans-serif" font-weight="bold" font-size="21.5" fill="#000" text-anchor="middle" transform="translate(122.5,773) scale(1,1.1)">0</text>
<text x="0" y="0" font-family="Liberation Sans, sans-serif" font-weight="bold" font-size="21.5" fill="#000" text-anchor="middle" transform="translate(282.5,773) scale(1,1.1)">50</text>
<text x="0" y="0" font-family="Liberation Sans, sans-serif" font-weight="bold" font-size="21.5" fill="#000" text-anchor="middle" transform="translate(397.8,773) scale(1,1.1)">100</text>
<text x="0" y="0" font-family="Liberation Sans, sans-serif" font-weight="bold" font-size="21.5" fill="#000" text-anchor="middle" transform="translate(487.6,773) scale(1,1.1)">150</text>
<text x="0" y="0" font-family="Liberation Sans, sans-serif" font-weight="bold" font-size="21.5" fill="#000" text-anchor="middle" transform="translate(557.3,773) scale(1,1.1)">200</text>
<text x="346" y="813.5" font-family="Liberation Sans, sans-serif" font-weight="bold" font-size="25.8" fill="#000" text-anchor="middle" >Chitosan/CLP (mg/g)</text>
<text x="0" y="0" font-family="Liberation Sans, sans-serif" font-weight="bold" font-size="25.8" fill="#000" text-anchor="middle" transform="translate(40,546.5) rotate(-90)">Particle diameter (nm)</text>
<text x="0" y="0" font-family="Liberation Sans, sans-serif" font-weight="bold" font-size="25.8" fill="#000" text-anchor="middle" transform="translate(659,547.5) rotate(-90)">Zeta potential (mV)</text>
<polyline points="122.5,647.1 193.3,455.2 239.25,501.8 282.5,497.2 343.95,481.8 397.8,456.8 557.3,444.3" fill="none" stroke="#6b6b6b" stroke-width="1.4" stroke-linejoin="round"/>
<polyline points="122.5,688.7 193.3,491.9 239.25,461.3 282.5,451.5 343.95,422.1 397.8,397.3 557.3,380.6" fill="none" stroke="#f0474a" stroke-width="1.4" stroke-linejoin="round"/>
<line x1="193.3" y1="448.6" x2="193.3" y2="461.8" stroke="#777" stroke-width="1.1" />
<line x1="189.8" y1="448.6" x2="196.8" y2="448.6" stroke="#777" stroke-width="1.1" />
<line x1="189.8" y1="461.8" x2="196.8" y2="461.8" stroke="#777" stroke-width="1.1" />
<line x1="239.25" y1="493.6" x2="239.25" y2="510.1" stroke="#777" stroke-width="1.1" />
<line x1="235.75" y1="493.6" x2="242.75" y2="493.6" stroke="#777" stroke-width="1.1" />
<line x1="235.75" y1="510.1" x2="242.75" y2="510.1" stroke="#777" stroke-width="1.1" />
<line x1="282.5" y1="487" x2="282.5" y2="507.9" stroke="#777" stroke-width="1.1" />
<line x1="279" y1="487" x2="286" y2="487" stroke="#777" stroke-width="1.1" />
<line x1="279" y1="507.9" x2="286" y2="507.9" stroke="#777" stroke-width="1.1" />
<line x1="557.3" y1="435.4" x2="557.3" y2="453.1" stroke="#777" stroke-width="1.1" />
<line x1="553.8" y1="435.4" x2="560.8" y2="435.4" stroke="#777" stroke-width="1.1" />
<line x1="553.8" y1="453.1" x2="560.8" y2="453.1" stroke="#777" stroke-width="1.1" />
<rect x="116.85" y="641.45" width="11.3" height="11.3" fill="#5c5c5c"/>
<rect x="187.65" y="449.55" width="11.3" height="11.3" fill="#5c5c5c"/>
<rect x="233.6" y="496.15" width="11.3" height="11.3" fill="#5c5c5c"/>
<rect x="276.85" y="491.55" width="11.3" height="11.3" fill="#5c5c5c"/>
<rect x="338.3" y="476.15" width="11.3" height="11.3" fill="#5c5c5c"/>
<rect x="392.15" y="451.15" width="11.3" height="11.3" fill="#5c5c5c"/>
<rect x="551.65" y="438.65" width="11.3" height="11.3" fill="#5c5c5c"/>
<circle cx="122.5" cy="688.7" r="6.4" fill="#ee3338"/>
<circle cx="193.3" cy="491.9" r="6.4" fill="#ee3338"/>
<circle cx="239.25" cy="461.3" r="6.4" fill="#ee3338"/>
<circle cx="282.5" cy="451.5" r="6.4" fill="#ee3338"/>
<circle cx="343.95" cy="422.1" r="6.4" fill="#ee3338"/>
<circle cx="397.8" cy="397.3" r="6.4" fill="#ee3338"/>
<circle cx="557.3" cy="380.6" r="6.4" fill="#ee3338"/>
<line x1="292" y1="670" x2="351" y2="670" stroke="#6b6b6b" stroke-width="1.4" />
<rect x="315.85" y="664.35" width="11.3" height="11.3" fill="#5c5c5c"/>
<line x1="292" y1="702.7" x2="351" y2="702.7" stroke="#f0474a" stroke-width="1.4" />
<circle cx="321.5" cy="702.7" r="6.4" fill="#ee3338"/>
<text x="359" y="679.3" font-family="Liberation Sans, sans-serif" font-weight="bold" font-size="25.7" fill="#000" text-anchor="start" >Particle diameter</text>
<text x="359" y="712" font-family="Liberation Sans, sans-serif" font-weight="bold" font-size="25.7" fill="#000" text-anchor="start" >Zeta potential</text>
<line x1="279" y1="530.3" x2="208.1" y2="530.3" stroke="#000" stroke-width="3" />
<polygon points="197.7,530.3 210.7,523.8 210.7,536.8" fill="#000"/>
<line x1="403" y1="413.4" x2="473.9" y2="413.4" stroke="#e8102a" stroke-width="3.2" />
<polygon points="484.3,413.4 471.3,406.9 471.3,419.9" fill="#e8102a"/>
<line x1="814.4" y1="349.5" x2="814.4" y2="740.8" stroke="#5a5a5a" stroke-width="1.6" />
<line x1="813.6" y1="349.5" x2="1299" y2="349.5" stroke="#111" stroke-width="2" />
<line x1="810" y1="740.8" x2="1299" y2="740.8" stroke="#111" stroke-width="2" />
<line x1="1299" y1="349.5" x2="1299" y2="741.3" stroke="#ee2a2f" stroke-width="1.6" />
<line x1="810.4" y1="740.55" x2="814.4" y2="740.55" stroke="#5a5a5a" stroke-width="1.5" />
<line x1="807.4" y1="705" x2="814.4" y2="705" stroke="#5a5a5a" stroke-width="1.5" />
<text x="0" y="0" font-family="Liberation Sans, sans-serif" font-weight="bold" font-size="21.5" fill="#555555" text-anchor="end" transform="translate(801,711.5) scale(1,1.1)">0.0</text>
<line x1="810.4" y1="669.45" x2="814.4" y2="669.45" stroke="#5a5a5a" stroke-width="1.5" />
<line x1="807.4" y1="633.9" x2="814.4" y2="633.9" stroke="#5a5a5a" stroke-width="1.5" />
<text x="0" y="0" font-family="Liberation Sans, sans-serif" font-weight="bold" font-size="21.5" fill="#555555" text-anchor="end" transform="translate(801,640.4) scale(1,1.1)">0.1</text>
<line x1="810.4" y1="598.35" x2="814.4" y2="598.35" stroke="#5a5a5a" stroke-width="1.5" />
<line x1="807.4" y1="562.8" x2="814.4" y2="562.8" stroke="#5a5a5a" stroke-width="1.5" />
<text x="0" y="0" font-family="Liberation Sans, sans-serif" font-weight="bold" font-size="21.5" fill="#555555" text-anchor="end" transform="translate(801,569.3) scale(1,1.1)">0.2</text>
<line x1="810.4" y1="527.25" x2="814.4" y2="527.25" stroke="#5a5a5a" stroke-width="1.5" />
<line x1="807.4" y1="491.7" x2="814.4" y2="491.7" stroke="#5a5a5a" stroke-width="1.5" />
<text x="0" y="0" font-family="Liberation Sans, sans-serif" font-weight="bold" font-size="21.5" fill="#555555" text-anchor="end" transform="translate(801,498.2) scale(1,1.1)">0.3</text>
<line x1="810.4" y1="456.15" x2="814.4" y2="456.15" stroke="#5a5a5a" stroke-width="1.5" />
<line x1="807.4" y1="420.6" x2="814.4" y2="420.6" stroke="#5a5a5a" stroke-width="1.5" />
<text x="0" y="0" font-family="Liberation Sans, sans-serif" font-weight="bold" font-size="21.5" fill="#555555" text-anchor="end" transform="translate(801,427.1) scale(1,1.1)">0.4</text>
<line x1="810.4" y1="385.05" x2="814.4" y2="385.05" stroke="#5a5a5a" stroke-width="1.5" />
<line x1="807.4" y1="349.5" x2="814.4" y2="349.5" stroke="#5a5a5a" stroke-width="1.5" />
<text x="0" y="0" font-family="Liberation Sans, sans-serif" font-weight="bold" font-size="21.5" fill="#555555" text-anchor="end" transform="translate(801,356) scale(1,1.1)">0.5</text>
<line x1="1299" y1="740.55" x2="1303" y2="740.55" stroke="#ee2a2f" stroke-width="1.5" />
<line x1="1299" y1="705" x2="1306.5" y2="705" stroke="#ee2a2f" stroke-width="1.5" />
<text x="0" y="0" font-family="Liberation Sans, sans-serif" font-weight="bold" font-size="21.5" fill="#ee2a2f" text-anchor="start" transform="translate(1311.5,711.5) scale(1,1.1)">0</text>
<line x1="1299" y1="669.45" x2="1303" y2="669.45" stroke="#ee2a2f" stroke-width="1.5" />
<line x1="1299" y1="633.9" x2="1306.5" y2="633.9" stroke="#ee2a2f" stroke-width="1.5" />
<text x="0" y="0" font-family="Liberation Sans, sans-serif" font-weight="bold" font-size="21.5" fill="#ee2a2f" text-anchor="start" transform="translate(1311.5,640.4) scale(1,1.1)">1</text>
<line x1="1299" y1="598.35" x2="1303" y2="598.35" stroke="#ee2a2f" stroke-width="1.5" />
<line x1="1299" y1="562.8" x2="1306.5" y2="562.8" stroke="#ee2a2f" stroke-width="1.5" />
<text x="0" y="0" font-family="Liberation Sans, sans-serif" font-weight="bold" font-size="21.5" fill="#ee2a2f" text-anchor="start" transform="translate(1311.5,569.3) scale(1,1.1)">2</text>
<line x1="1299" y1="527.25" x2="1303" y2="527.25" stroke="#ee2a2f" stroke-width="1.5" />
<line x1="1299" y1="491.7" x2="1306.5" y2="491.7" stroke="#ee2a2f" stroke-width="1.5" />
<text x="0" y="0" font-family="Liberation Sans, sans-serif" font-weight="bold" font-size="21.5" fill="#ee2a2f" text-anchor="start" transform="translate(1311.5,498.2) scale(1,1.1)">3</text>
<line x1="1299" y1="456.15" x2="1303" y2="456.15" stroke="#ee2a2f" stroke-width="1.5" />
<line x1="1299" y1="420.6" x2="1306.5" y2="420.6" stroke="#ee2a2f" stroke-width="1.5" />
<text x="0" y="0" font-family="Liberation Sans, sans-serif" font-weight="bold" font-size="21.5" fill="#ee2a2f" text-anchor="start" transform="translate(1311.5,427.1) scale(1,1.1)">4</text>
<line x1="1299" y1="385.05" x2="1303" y2="385.05" stroke="#ee2a2f" stroke-width="1.5" />
<line x1="1299" y1="349.5" x2="1306.5" y2="349.5" stroke="#ee2a2f" stroke-width="1.5" />
<text x="0" y="0" font-family="Liberation Sans, sans-serif" font-weight="bold" font-size="21.5" fill="#ee2a2f" text-anchor="start" transform="translate(1311.5,356) scale(1,1.1)">5</text>
<line x1="814.5" y1="740.8" x2="814.5" y2="747.8" stroke="#111" stroke-width="1.8" />
<text x="0" y="0" font-family="Liberation Sans, sans-serif" font-weight="bold" font-size="21.5" fill="#000" text-anchor="middle" transform="translate(814.5,771.5) scale(1,1.1)">0</text>
<line x1="895.35" y1="740.8" x2="895.35" y2="744.8" stroke="#111" stroke-width="1.8" />
<line x1="895.35" y1="349.5" x2="895.35" y2="353.5" stroke="#111" stroke-width="1.8" />
<line x1="976.2" y1="740.8" x2="976.2" y2="747.8" stroke="#111" stroke-width="1.8" />
<line x1="976.2" y1="349.5" x2="976.2" y2="356.5" stroke="#111" stroke-width="1.8" />
<text x="0" y="0" font-family="Liberation Sans, sans-serif" font-weight="bold" font-size="21.5" fill="#000" text-anchor="middle" transform="translate(976.2,771.5) scale(1,1.1)">2</text>
<line x1="1057.05" y1="740.8" x2="1057.05" y2="744.8" stroke="#111" stroke-width="1.8" />
<line x1="1057.05" y1="349.5" x2="1057.05" y2="353.5" stroke="#111" stroke-width="1.8" />
<line x1="1137.9" y1="740.8" x2="1137.9" y2="747.8" stroke="#111" stroke-width="1.8" />
<line x1="1137.9" y1="349.5" x2="1137.9" y2="356.5" stroke="#111" stroke-width="1.8" />
<text x="0" y="0" font-family="Liberation Sans, sans-serif" font-weight="bold" font-size="21.5" fill="#000" text-anchor="middle" transform="translate(1137.9,771.5) scale(1,1.1)">4</text>
<line x1="1218.75" y1="740.8" x2="1218.75" y2="744.8" stroke="#111" stroke-width="1.8" />
<line x1="1218.75" y1="349.5" x2="1218.75" y2="353.5" stroke="#111" stroke-width="1.8" />
<line x1="1299.6" y1="740.8" x2="1299.6" y2="747.8" stroke="#111" stroke-width="1.8" />
<text x="0" y="0" font-family="Liberation Sans, sans-serif" font-weight="bold" font-size="21.5" fill="#000" text-anchor="middle" transform="translate(1299.6,771.5) scale(1,1.1)">6</text>
<text x="1057" y="813.5" font-family="Liberation Sans, sans-serif" font-weight="bold" font-size="25.8" fill="#000" text-anchor="middle" >Time (hours)</text>
<text x="0" y="0" font-family="Liberation Sans, sans-serif" font-weight="bold" font-size="25.9" fill="#000" text-anchor="middle" transform="translate(758,545) rotate(-90)">Sensed mass Δm (mg/m<tspan font-size="17" dy="-10">2</tspan><tspan dy="10">)</tspan></text>
<text x="0" y="0" font-family="Liberation Sans, sans-serif" font-weight="bold" font-size="25.8" fill="#000" text-anchor="middle" transform="translate(1354.5,541.5) rotate(-90)">Change in dissapation ΔD (*10<tspan font-size="17" dy="-10">-6</tspan><tspan dy="10">)</tspan></text>
<line x1="838.2" y1="350.5" x2="838.2" y2="740.8" stroke="#000" stroke-width="2.6" stroke-dasharray="2.6,1.9"/>
<line x1="1225.9" y1="350.5" x2="1225.9" y2="740.8" stroke="#000" stroke-width="2.6" stroke-dasharray="2.6,1.9"/>
<polyline points="814.5,704.65 815.04,705.35 815.58,705.17 816.12,704.27 816.66,704.28 817.2,704.39 817.73,705.15 818.27,704.6 818.81,705.66 819.35,705.61 819.89,706.46 820.43,706.28 820.97,704.9 821.51,705.28 822.05,705.07 822.59,706.04 823.12,705.91 823.66,704.98 824.2,706.27 824.74,705.59 825.28,705.92 825.82,706.66 826.36,705.61 826.9,706.22 827.44,706.68 827.98,707.23 828.51,706.16 829.05,705.68 829.59,705.5 830.13,707 830.67,707.27 831.21,706.96 831.75,706.78 832.29,707.36 832.83,706.67 833.37,705.9 833.9,707.12 834.44,707.52 834.98,706.7 835.52,706.03 836.06,706.37 836.6,706.2 837.14,706.39 837.68,708.1 838.22,708.66 838.75,710.79 839.29,707.53 839.83,701.94 840.37,696.4 840.91,691.01 841.45,681.03 841.99,672.12 842.53,664.87 843.07,658.39 843.61,655.29 844.14,653.06 844.68,649.17 845.22,646.79 845.76,644.81 846.3,642.54 846.84,639.51 847.38,636.97 847.92,634.96 848.46,633.32 849,631.65 849.53,629.12 850.07,627.52 850.61,625.64 851.15,625.15 851.69,622.81 852.23,621.48 852.77,620.94 853.31,618.72 853.85,616.55 854.39,615.7 854.92,615.35 855.46,612.46 856,612.22 856.54,611.04 857.08,609.83 857.62,609.34 858.16,607.01 858.7,605.72 859.24,605.37 859.78,603.91 860.32,603.84 860.85,602.92 861.39,601.86 861.93,599.71 862.47,599.02 863.01,597.44 863.55,596.99 864.09,597.5 864.63,596.58 865.17,595.76 865.71,593.44 866.24,592.57 866.78,592.6 867.32,592.23 867.86,591.06 868.4,589.14 868.94,590.01 869.48,588.93 870.02,587.03 870.56,586.59 871.1,587.13 871.63,585.27 872.17,585.19 872.71,583.29 873.25,584.14 873.79,581.93 874.33,582.91 874.87,580.97 875.41,579.86 875.95,580.87 876.49,579.33 877.02,578.49 877.56,578.63 878.1,576.85 878.64,576.19 879.18,575.6 879.72,574.73 880.26,574.56 880.8,574.41 881.34,573.48 881.88,573.04 882.41,572.49 882.95,571.74 883.49,570.28 884.03,570.03 884.57,570.56 885.11,569.19 885.65,569.08 886.19,567.61 886.73,567.33 887.26,567.82 887.8,566.84 888.34,566.98 888.88,565.83 889.42,565.08 889.96,564.42 890.5,563.93 891.04,563.83 891.58,563.78 892.12,562.49 892.65,562.52 893.19,560.56 893.73,559.94 894.27,559.43 894.81,560.34 895.35,558.57 895.89,559.07 896.43,559.02 896.97,557.19 897.51,557.06 898.04,557.75 898.58,555.61 899.12,555.83 899.66,554.71 900.2,555.29 900.74,554.49 901.28,552.95 901.82,553.7 902.36,552.12 902.9,553.11 903.43,551.3 903.97,550.72 904.51,550.74 905.05,550.61 905.59,550.97 906.13,549.2 906.67,549.62 907.21,548.24 907.75,549.02 908.29,547.38 908.83,548.1 909.36,546.59 909.9,546.16 910.44,546.54 910.98,546.34 911.52,545.38 912.06,545.51 912.6,544.29 913.14,543.79 913.68,543.94 914.22,544.46 914.75,543.56 915.29,542.89 915.83,542.32 916.37,542.92 916.91,541.47 917.45,542.6 917.99,542.01 918.53,541 919.07,540.45 919.61,540.68 920.14,539.64 920.68,540.02 921.22,539.07 921.76,538.03 922.3,537.72 922.84,537.75 923.38,537.07 923.92,538.3 924.46,536.79 925,536.48 925.53,535.88 926.07,535.76 926.61,536.85 927.15,535.07 927.69,534.88 928.23,533.94 928.77,534.56 929.31,533.7 929.85,532.99 930.38,532.84 930.92,532.43 931.46,532.64 932,532.89 932.54,532.91 933.08,532.53 933.62,531.56 934.16,532.44 934.7,531.62 935.24,529.95 935.77,531.34 936.31,530.72 936.85,529.22 937.39,529.65 937.93,529.95 938.47,529.2 939.01,529.1 939.55,527.89 940.09,527.4 940.63,527.04 941.16,527.65 941.7,527.49 942.24,526.92 942.78,527.24 943.32,526.35 943.86,526.37 944.4,526.23 944.94,524.62 945.48,525.64 946.02,525.37 946.55,524.59 947.09,524.27 947.63,524.56 948.17,524.03 948.71,522.76 949.25,523.67 949.79,523.04 950.33,521.74 950.87,522.69 951.41,522.42 951.94,521.82 952.48,521.45 953.02,522.03 953.56,521.92 954.1,519.73 954.64,521.06 955.18,520.05 955.72,519.3 956.26,519.04 956.8,518.63 957.34,519.99 957.87,519.45 958.41,519.32 958.95,517.75 959.49,517.99 960.03,516.77 960.57,517.4 961.11,516.52 961.65,516.61 962.19,515.72 962.73,517.13 963.26,517.05 963.8,516.74 964.34,515.43 964.88,516.42 965.42,514.89 965.96,514.47 966.5,513.86 967.04,513.98 967.58,513.65 968.12,513.92 968.65,513.39 969.19,514.16 969.73,513.41 970.27,513.77 970.81,513.08 971.35,512.86 971.89,512.65 972.43,511.46 972.97,512.5 973.5,511.34 974.04,510.74 974.58,511.85 975.12,510.96 975.66,510.51 976.2,509.49 976.74,509.32 977.28,509.65 977.82,510.22 978.36,509.06 978.89,508.29 979.43,508.34 979.97,507.89 980.51,508.3 981.05,508.41 981.59,507.49 982.13,507.17 982.67,506.29 983.21,507.85 983.75,506.68 984.28,507.15 984.82,505.72 985.36,505.73 985.9,506.6 986.44,506.19 986.98,504.26 987.52,505.75 988.06,504.89 988.6,504.26 989.14,504.88 989.67,504.94 990.21,502.97 990.75,503.56 991.29,504.16 991.83,503.33 992.37,502.72 992.91,501.65 993.45,501.8 993.99,502.39 994.53,501.13 995.07,501.91 995.6,500.64 996.14,501.23 996.68,500.73 997.22,500.93 997.76,500.11 998.3,501.21 998.84,500.83 999.38,499.32 999.92,500.55 1000.45,499.03 1000.99,499.2 1001.53,498.83 1002.07,499.11 1002.61,498.02 1003.15,498.04 1003.69,498.52 1004.23,498.55 1004.77,497.76 1005.31,498.49 1005.85,497.99 1006.38,496.6 1006.92,496.55 1007.46,496.76 1008,496.03 1008.54,496.73 1009.08,495.5 1009.62,495.45 1010.16,495.13 1010.7,494.78 1011.23,496.28 1011.77,495.77 1012.31,495.99 1012.85,494.33 1013.39,495.27 1013.93,494.94 1014.47,494.19 1015.01,493.61 1015.55,493.66 1016.09,494.85 1016.62,494.7 1017.16,493.32 1017.7,494.09 1018.24,492.38 1018.78,492.86 1019.32,492.35 1019.86,493.59 1020.4,492.46 1020.94,493.02 1021.48,491.4 1022.01,493.01 1022.55,492.51 1023.09,491.54 1023.63,492.62 1024.17,491.08 1024.71,491.04 1025.25,490.26 1025.79,491.93 1026.33,491.83 1026.87,490.27 1027.4,491.56 1027.94,490.27 1028.48,490.21 1029.02,491.05 1029.56,490.65 1030.1,490.55 1030.64,489.97 1031.18,489.24 1031.72,490.02 1032.26,488.7 1032.8,488.65 1033.33,488.08 1033.87,488.51 1034.41,489.48 1034.95,488.09 1035.49,487.6 1036.03,488.68 1036.57,487.58 1037.11,488.2 1037.65,488.31 1038.18,487.99 1038.72,488.19 1039.26,487.49 1039.8,487.68 1040.34,486.54 1040.88,486.2 1041.42,486.9 1041.96,486.38 1042.5,486.44 1043.04,486.89 1043.58,487.09 1044.11,485.9 1044.65,486.48 1045.19,484.71 1045.73,484.71 1046.27,486.26 1046.81,486.01 1047.35,485.71 1047.89,484.33 1048.43,485.53 1048.96,484.66 1049.5,483.74 1050.04,483.41 1050.58,483.46 1051.12,484.08 1051.66,482.62 1052.2,483.78 1052.74,482.87 1053.28,483.65 1053.82,482.01 1054.36,482.49 1054.89,482.79 1055.43,481.66 1055.97,481.97 1056.51,481.58 1057.05,481.4 1057.59,481.3 1058.13,482.13 1058.67,480.94 1059.21,481.48 1059.74,479.85 1060.28,480.5 1060.82,480.27 1061.36,480.19 1061.9,479.11 1062.44,480.17 1062.98,478.88 1063.52,479.26 1064.06,478.62 1064.6,479.18 1065.13,478.17 1065.67,479.37 1066.21,477.97 1066.75,479.27 1067.29,478.16 1067.83,478.86 1068.37,478.64 1068.91,478.29 1069.45,478.03 1069.99,477.08 1070.53,477.75 1071.06,476.35 1071.6,476.77 1072.14,475.8 1072.68,476.82 1073.22,475.28 1073.76,476.53 1074.3,476.52 1074.84,475.87 1075.38,475.75 1075.91,475.17 1076.45,475.01 1076.99,474.88 1077.53,473.87 1078.07,474.64 1078.61,475.02 1079.15,474.25 1079.69,474.12 1080.23,473.27 1080.77,473.05 1081.3,473.73 1081.84,473.83 1082.38,473.88 1082.92,473.29 1083.46,473.13 1084,473.88 1084.54,473.55 1085.08,473.16 1085.62,471.95 1086.16,472.42 1086.69,473.13 1087.23,472.75 1087.77,471.18 1088.31,472.44 1088.85,472.6 1089.39,472.33 1089.93,471.59 1090.47,470.89 1091.01,471.38 1091.55,470.33 1092.09,470.48 1092.62,471.4 1093.16,470.27 1093.7,470.06 1094.24,470.99 1094.78,471.35 1095.32,470.66 1095.86,469.6 1096.4,470.54 1096.94,470.76 1097.47,471.04 1098.01,469.67 1098.55,469.72 1099.09,470.22 1099.63,470.26 1100.17,469.8 1100.71,469.58 1101.25,468.93 1101.79,468.27 1102.33,469.34 1102.87,469.03 1103.4,468.17 1103.94,469.12 1104.48,467.73 1105.02,467.85 1105.56,467.99 1106.1,468.64 1106.64,468.62 1107.18,467.57 1107.72,467.71 1108.26,467.34 1108.79,468.82 1109.33,467.82 1109.87,466.97 1110.41,468.01 1110.95,468.13 1111.49,468.66 1112.03,467.23 1112.57,466.78 1113.11,467.47 1113.64,466.74 1114.18,466.62 1114.72,468.45 1115.26,466.95 1115.8,467.55 1116.34,468.16 1116.88,467.14 1117.42,467.18 1117.96,469.67 1118.5,468.67 1119.03,470.02 1119.57,469.7 1120.11,468.22 1120.65,467.76 1121.19,467.52 1121.73,467.92 1122.27,467.72 1122.81,467.18 1123.35,467.43 1123.89,466.17 1124.42,467.37 1124.96,467.01 1125.5,465.59 1126.04,466.37 1126.58,466.2 1127.12,466.31 1127.66,464.86 1128.2,465.49 1128.74,465.41 1129.28,464.87 1129.82,465.18 1130.35,464.52 1130.89,464.65 1131.43,463.8 1131.97,463.41 1132.51,463.41 1133.05,463.21 1133.59,463.56 1134.13,462.81 1134.67,464.01 1135.2,463.9 1135.74,462.51 1136.28,462.99 1136.82,463.78 1137.36,462.15 1137.9,463.73 1138.44,462 1138.98,461.89 1139.52,463.25 1140.06,462.7 1140.6,462.59 1141.13,461.41 1141.67,462.62 1142.21,461.63 1142.75,460.93 1143.29,461.34 1143.83,461.41 1144.37,462.5 1144.91,462.17 1145.45,460.43 1145.98,461.14 1146.52,460.86 1147.06,461.14 1147.6,461.69 1148.14,461.51 1148.68,459.77 1149.22,461.2 1149.76,459.59 1150.3,460.47 1150.84,459.76 1151.38,459.99 1151.91,459.73 1152.45,459.68 1152.99,460.42 1153.53,459.16 1154.07,459.01 1154.61,460.15 1155.15,459.92 1155.69,459.38 1156.23,460.27 1156.76,460.18 1157.3,458.73 1157.84,460.04 1158.38,458.91 1158.92,458.53 1159.46,459.04 1160,459.4 1160.54,458.51 1161.08,458.03 1161.62,458.96 1162.15,457.9 1162.69,459.02 1163.23,457.64 1163.77,459.08 1164.31,457.61 1164.85,458.55 1165.39,457.36 1165.93,457.47 1166.47,457.93 1167.01,457.46 1167.55,458.67 1168.08,456.84 1168.62,456.76 1169.16,458.44 1169.7,457.85 1170.24,456.7 1170.78,456.43 1171.32,456.91 1171.86,456.85 1172.4,457.35 1172.93,457.14 1173.47,456.08 1174.01,456.52 1174.55,457.44 1175.09,456.68 1175.63,456.29 1176.17,456.8 1176.71,456.82 1177.25,456.88 1177.79,456.37 1178.33,455.62 1178.86,455.1 1179.4,456.38 1179.94,455.98 1180.48,455.48 1181.02,455.78 1181.56,455.79 1182.1,454.71 1182.64,455.8 1183.18,455.13 1183.71,454.12 1184.25,454.27 1184.79,455.73 1185.33,453.94 1185.87,454.72 1186.41,454.56 1186.95,455.09 1187.49,454.14 1188.03,453.64 1188.57,453.89 1189.11,453.25 1189.64,453.6 1190.18,453.33 1190.72,452.7 1191.26,453.41 1191.8,453.16 1192.34,452.8 1192.88,454.12 1193.42,452.57 1193.96,452.8 1194.49,452.17 1195.03,453.42 1195.57,452.63 1196.11,452.04 1196.65,452.18 1197.19,453.01 1197.73,452.2 1198.27,452.25 1198.81,452.72 1199.35,452.65 1199.88,451.59 1200.42,451.59 1200.96,450.64 1201.5,451.1 1202.04,451.04 1202.58,451.2 1203.12,451.56 1203.66,452 1204.2,450.16 1204.74,451.77 1205.27,450.15 1205.81,451.04 1206.35,449.71 1206.89,450.91 1207.43,449.72 1207.97,449.9 1208.51,450.05 1209.05,451.08 1209.59,449.53 1210.13,450.34 1210.66,450.39 1211.2,450.55 1211.74,449.31 1212.28,449.91 1212.82,449.66 1213.36,449.83 1213.9,449.13 1214.44,449.58 1214.98,449.46 1215.52,449.45 1216.06,449.48 1216.59,448.35 1217.13,449.21 1217.67,449.54 1218.21,448.9 1218.75,450.01 1219.29,449.31 1219.83,448.04 1220.37,449.29 1220.91,448.54 1221.44,448.86 1221.98,449.6 1222.52,449.2 1223.06,448.42 1223.6,448.45 1224.14,448.75 1224.68,448.11 1225.22,448.53 1225.76,449.41 1226.3,449.62 1226.84,449.28 1227.37,449.66 1227.91,450.36 1228.45,450.12 1228.99,450.53 1229.53,451.81 1230.07,451.33 1230.61,453.79 1231.15,452.93 1231.69,453.66 1232.22,456.28 1232.76,456.49 1233.3,457.65 1233.84,457.59 1234.38,458.16 1234.92,458.5 1235.46,458.84 1236,459.38 1236.54,458.56 1237.08,460.09 1237.62,460.18 1238.15,460.83 1238.69,460.62 1239.23,460.4 1239.77,460.72 1240.31,461.66 1240.85,460.76 1241.39,461 1241.93,462.81 1242.47,463.28 1243,461.72 1243.54,463.12 1244.08,464.14 1244.62,463.24 1245.16,463.93 1245.7,463.17 1246.24,463.09 1246.78,463.54 1247.32,463.68 1247.86,463.96 1248.39,465.34 1248.93,465.57 1249.47,464.39 1250.01,465.91 1250.55,466.13 1251.09,466.11 1251.63,465.95 1252.17,465.72 1252.71,466.82 1253.25,465.59 1253.78,467.37 1254.32,466.53 1254.86,466.41 1255.4,467.22 1255.94,467.15 1256.48,467.46 1257.02,467.04 1257.56,467.65 1258.1,468.35 1258.64,468.03 1259.17,469.32 1259.71,468.73 1260.25,467.89 1260.79,469.35 1261.33,468.79 1261.87,470.25 1262.41,469.67 1262.95,469.5 1263.49,469.57 1264.03,470.19 1264.57,470.78 1265.1,469.33 1265.64,470.35 1266.18,471.3 1266.72,469.92 1267.26,471.63 1267.8,471.32 1268.34,472.04 1268.88,471.87 1269.42,471.36 1269.95,471.94 1270.49,471.4 1271.03,473.02 1271.57,472.53 1272.11,472.41 1272.65,472.15 1273.19,473.38 1273.73,472.13 1274.27,473.65 1274.81,473.42 1275.35,474.19 1275.88,473.52 1276.42,473.1 1276.96,473.23 1277.5,473.74 1278.04,473.97 1278.58,473.61 1279.12,475.45 1279.66,473.82 1280.2,475.32 1280.73,475.08 1281.27,475.07 1281.81,474.24 1282.35,476.04 1282.89,475.58 1283.43,476.14 1283.97,476.61 1284.51,476.48 1285.05,475.48 1285.59,475.51 1286.12,475.4 1286.66,476.48 1287.2,476.4 1287.74,477.43 1288.28,476.93 1288.82,476.09 1289.36,476.49 1289.9,477.37 1290.44,477.54 1290.98,477.21 1291.51,478.36 1292.05,476.98 1292.59,477.16 1293.13,478.56 1293.67,478.54 1294.21,478.54 1294.75,478.36 1295.29,477.28 1295.83,478.78 1296.37,478.72 1296.9,478.64 1297.44,477.76 1297.98,478.16 1298.52,478.69 1299.06,478.29 1299.6,479.26" fill="none" stroke="#606060" stroke-width="4.6" stroke-linejoin="round"/>
<polyline points="814.5,704.3 815.04,704.14 815.58,704.73 816.12,705.01 816.66,704.87 817.2,704.18 817.73,705.65 818.27,704.45 818.81,705.9 819.35,704.79 819.89,704.09 820.43,704.58 820.97,704.24 821.51,705.63 822.05,705.16 822.59,704.74 823.12,704.13 823.66,704.41 824.2,704.86 824.74,705.17 825.28,704.6 825.82,705.4 826.36,705.15 826.9,705.75 827.44,704.58 827.98,704.24 828.51,705.51 829.05,704.98 829.59,705.34 830.13,705.15 830.67,704.63 831.21,705.19 831.75,704.91 832.29,705.89 832.83,705.33 833.37,705.4 833.9,705.99 834.44,704.57 834.98,705.34 835.52,704.92 836.06,704.23 836.6,705.54 837.14,704.5 837.68,705.74 838.22,704.9 838.75,705.77 839.29,704.84 839.83,701.82 840.37,700.19 840.91,696.5 841.45,695.39 841.99,694.9 842.53,693.6 843.07,693.23 843.61,693.05 844.14,692.93 844.68,692.45 845.22,691 845.76,692.15 846.3,691.9 846.84,690.83 847.38,691.05 847.92,689.68 848.46,689.65 849,689.23 849.53,689.23 850.07,689.48 850.61,690.34 851.15,688.73 851.69,688.99 852.23,688.41 852.77,690.03 853.31,688.9 853.85,688.03 854.39,688.26 854.92,687.97 855.46,689.47 856,687.78 856.54,687.46 857.08,689.28 857.62,688.64 858.16,687.91 858.7,688.64 859.24,688.58 859.78,687.4 860.32,688.85 860.85,688.43 861.39,688.23 861.93,687.71 862.47,686.67 863.01,687.11 863.55,687.87 864.09,687.32 864.63,688.34 865.17,687.03 865.71,686.7 866.24,686.59 866.78,687.93 867.32,687.03 867.86,687.62 868.4,687.29 868.94,687.48 869.48,686.82 870.02,687.39 870.56,687.36 871.1,686.5 871.63,687.56 872.17,685.96 872.71,685.88 873.25,687.14 873.79,687.14 874.33,686.76 874.87,686.5 875.41,685.39 875.95,686.62 876.49,687.15 877.02,686.98 877.56,685.62 878.1,685.75 878.64,686.3 879.18,685.93 879.72,686.88 880.26,685.94 880.8,686.8 881.34,686.79 881.88,685.99 882.41,684.93 882.95,685.23 883.49,686.43 884.03,685.75 884.57,685.89 885.11,685.78 885.65,686.29 886.19,685.81 886.73,685.22 887.26,685.65 887.8,686.13 888.34,685.48 888.88,685.58 889.42,685.93 889.96,685.58 890.5,686.38 891.04,686.22 891.58,684.97 892.12,686.31 892.65,684.68 893.19,685.27 893.73,684.85 894.27,685.68 894.81,686.12 895.35,685.74 895.89,684.57 896.43,686.2 896.97,686.15 897.51,685.21 898.04,685.88 898.58,685.06 899.12,684.86 899.66,684.8 900.2,684.18 900.74,685.01 901.28,684.77 901.82,685.12 902.36,686.05 902.9,686.01 903.43,684.58 903.97,685.59 904.51,684.28 905.05,685.83 905.59,684.51 906.13,685.81 906.67,685.36 907.21,684.06 907.75,684.78 908.29,685.8 908.83,685.51 909.36,685.61 909.9,685.61 910.44,684.55 910.98,685.71 911.52,684.1 912.06,684.31 912.6,684.14 913.14,684.21 913.68,684.4 914.22,684.36 914.75,684.13 915.29,683.8 915.83,683.78 916.37,684.84 916.91,684.68 917.45,683.93 917.99,684.57 918.53,685.36 919.07,684.7 919.61,685.64 920.14,685.33 920.68,684.93 921.22,684.34 921.76,683.89 922.3,685.11 922.84,683.94 923.38,685.29 923.92,684.93 924.46,684.07 925,684.49 925.53,684.46 926.07,685.48 926.61,684.64 927.15,685.47 927.69,684.24 928.23,684.28 928.77,684.51 929.31,684.51 929.85,684.02 930.38,684.28 930.92,683.51 931.46,683.92 932,684.51 932.54,684.75 933.08,685.19 933.62,684.07 934.16,683.71 934.7,684.69 935.24,685.06 935.77,684.64 936.31,685 936.85,684.41 937.39,685.02 937.93,684.99 938.47,685.12 939.01,684.71 939.55,683.37 940.09,684.02 940.63,684.96 941.16,684.54 941.7,684.63 942.24,683.27 942.78,684.75 943.32,684.31 943.86,683.37 944.4,683.73 944.94,683.75 945.48,683.62 946.02,685.15 946.55,683.95 947.09,684.54 947.63,684.4 948.17,683.31 948.71,683.66 949.25,683.75 949.79,683.15 950.33,683.66 950.87,684.5 951.41,683.68 951.94,684.02 952.48,683.32 953.02,683.47 953.56,684.94 954.1,683.97 954.64,684.98 955.18,683.57 955.72,684.92 956.26,684.18 956.8,684.06 957.34,683.27 957.87,684.01 958.41,684.39 958.95,684.77 959.49,683.01 960.03,683.94 960.57,683.55 961.11,683.63 961.65,684.61 962.19,684.42 962.73,683.15 963.26,684.33 963.8,683.47 964.34,683.67 964.88,684.05 965.42,683.72 965.96,682.96 966.5,684.52 967.04,684.71 967.58,683.36 968.12,683.2 968.65,684.73 969.19,684.43 969.73,684.63 970.27,683.89 970.81,682.88 971.35,683.68 971.89,684.06 972.43,682.86 972.97,683 973.5,683.43 974.04,684.21 974.58,683.25 975.12,683.32 975.66,683.5 976.2,683.02 976.74,684.51 977.28,683.13 977.82,684.67 978.36,682.95 978.89,682.84 979.43,682.84 979.97,683.16 980.51,684.41 981.05,683.46 981.59,683.67 982.13,683.29 982.67,683.16 983.21,682.85 983.75,683.85 984.28,683.02 984.82,683.08 985.36,683.46 985.9,684.26 986.44,682.6 986.98,683.97 987.52,683.49 988.06,682.54 988.6,684.38 989.14,684.23 989.67,683.01 990.21,682.82 990.75,683.87 991.29,683.94 991.83,684.02 992.37,683.59 992.91,684.04 993.45,684.31 993.99,683.07 994.53,682.96 995.07,683.85 995.6,682.58 996.14,683.6 996.68,682.88 997.22,682.45 997.76,683.34 998.3,683.7 998.84,683.36 999.38,682.89 999.92,683.8 1000.45,682.43 1000.99,683.73 1001.53,682.89 1002.07,684.22 1002.61,682.43 1003.15,683.2 1003.69,682.75 1004.23,683.83 1004.77,682.75 1005.31,682.96 1005.85,682.79 1006.38,683.85 1006.92,684.23 1007.46,682.69 1008,683.15 1008.54,684.2 1009.08,683.09 1009.62,684.24 1010.16,682.39 1010.7,683.07 1011.23,684.05 1011.77,684.27 1012.31,682.93 1012.85,684.14 1013.39,682.32 1013.93,683.01 1014.47,682.91 1015.01,682.25 1015.55,682.94 1016.09,682.48 1016.62,682.64 1017.16,683.87 1017.7,683.08 1018.24,683.16 1018.78,684.04 1019.32,682.93 1019.86,682.26 1020.4,683.81 1020.94,682.27 1021.48,682.3 1022.01,682.69 1022.55,683.97 1023.09,682.71 1023.63,683.39 1024.17,683.59 1024.71,682.7 1025.25,683.65 1025.79,683.41 1026.33,682.18 1026.87,683.08 1027.4,684.03 1027.94,682.62 1028.48,683.1 1029.02,682.47 1029.56,683.58 1030.1,683.64 1030.64,682.75 1031.18,682.81 1031.72,682.24 1032.26,683.59 1032.8,682.2 1033.33,683.18 1033.87,684.03 1034.41,684.04 1034.95,682.23 1035.49,683.05 1036.03,682.94 1036.57,682.88 1037.11,683.39 1037.65,683.73 1038.18,682.28 1038.72,682.62 1039.26,682.77 1039.8,682.42 1040.34,682.51 1040.88,683.78 1041.42,682.66 1041.96,683.99 1042.5,682.47 1043.04,683.31 1043.58,682.2 1044.11,683.63 1044.65,683.82 1045.19,682.58 1045.73,682.37 1046.27,683.15 1046.81,682.73 1047.35,682.88 1047.89,683.53 1048.43,682.19 1048.96,683.21 1049.5,682.71 1050.04,682.38 1050.58,683.17 1051.12,682.37 1051.66,682.62 1052.2,682.33 1052.74,682.37 1053.28,683.06 1053.82,682.16 1054.36,683.06 1054.89,682.14 1055.43,683.35 1055.97,682.53 1056.51,683.87 1057.05,683.09 1057.59,682.79 1058.13,683.95 1058.67,682.35 1059.21,682.37 1059.74,683.76 1060.28,683.6 1060.82,683.73 1061.36,682.29 1061.9,683.06 1062.44,683.78 1062.98,683.21 1063.52,682.97 1064.06,682.53 1064.6,683.82 1065.13,682.95 1065.67,683.9 1066.21,682.22 1066.75,683.92 1067.29,682.08 1067.83,682.75 1068.37,683.21 1068.91,682.29 1069.45,682.42 1069.99,683.67 1070.53,682.34 1071.06,682.78 1071.6,682.75 1072.14,682.48 1072.68,683.78 1073.22,683.11 1073.76,682.06 1074.3,682.22 1074.84,683.09 1075.38,682.6 1075.91,683.16 1076.45,683.31 1076.99,682.88 1077.53,683.24 1078.07,682.47 1078.61,683.57 1079.15,682.37 1079.69,682.22 1080.23,682.87 1080.77,682.9 1081.3,682.1 1081.84,682.19 1082.38,683.58 1082.92,682.14 1083.46,682.79 1084,682.31 1084.54,684.03 1085.08,683.67 1085.62,684.01 1086.16,683.96 1086.69,682.38 1087.23,683.91 1087.77,682.76 1088.31,682.38 1088.85,682.61 1089.39,682.35 1089.93,683.91 1090.47,682.6 1091.01,682.72 1091.55,682.45 1092.09,683.96 1092.62,683.88 1093.16,683.67 1093.7,683.16 1094.24,682.82 1094.78,683.22 1095.32,683.88 1095.86,684.1 1096.4,682.91 1096.94,682.66 1097.47,683.29 1098.01,683.67 1098.55,682.5 1099.09,682.24 1099.63,682.66 1100.17,684.13 1100.71,683.49 1101.25,682.17 1101.79,682.47 1102.33,683.04 1102.87,683.98 1103.4,682.65 1103.94,682.24 1104.48,682.91 1105.02,682.92 1105.56,683.38 1106.1,682.63 1106.64,683.18 1107.18,684.11 1107.72,682.54 1108.26,683.52 1108.79,683.82 1109.33,682.79 1109.87,683.56 1110.41,682.97 1110.95,683.17 1111.49,683.75 1112.03,684.1 1112.57,683.36 1113.11,682.78 1113.64,683.87 1114.18,683.43 1114.72,682.63 1115.26,683.58 1115.8,683.68 1116.34,682.77 1116.88,683.06 1117.42,684.27 1117.96,683.95 1118.5,684.24 1119.03,683.52 1119.57,683.52 1120.11,682.85 1120.65,682.73 1121.19,684.17 1121.73,684.36 1122.27,683.19 1122.81,683.51 1123.35,683.65 1123.89,683.84 1124.42,682.94 1124.96,682.48 1125.5,682.85 1126.04,684.2 1126.58,682.9 1127.12,682.84 1127.66,683.94 1128.2,683.45 1128.74,683.98 1129.28,683.66 1129.82,683.67 1130.35,683.39 1130.89,682.54 1131.43,683.15 1131.97,683.71 1132.51,681.93 1133.05,683.71 1133.59,682.12 1134.13,681.91 1134.67,683.07 1135.2,683.26 1135.74,682.95 1136.28,683.39 1136.82,683.52 1137.36,683.46 1137.9,683.6 1138.44,682.1 1138.98,681.75 1139.52,683.29 1140.06,683.3 1140.6,682.21 1141.13,681.81 1141.67,682.01 1142.21,682.43 1142.75,682.08 1143.29,682.99 1143.83,682.18 1144.37,682.53 1144.91,682.75 1145.45,682.32 1145.98,683.03 1146.52,682.88 1147.06,681.89 1147.6,681.62 1148.14,681.77 1148.68,681.82 1149.22,683.36 1149.76,682.37 1150.3,682.97 1150.84,682.35 1151.38,683.01 1151.91,683.22 1152.45,681.75 1152.99,682.31 1153.53,682.57 1154.07,682.86 1154.61,682.85 1155.15,681.97 1155.69,682.04 1156.23,681.41 1156.76,681.28 1157.3,681.74 1157.84,682.2 1158.38,682.96 1158.92,682.1 1159.46,682.68 1160,682.45 1160.54,681.8 1161.08,682.82 1161.62,682.61 1162.15,681.99 1162.69,682.26 1163.23,682.01 1163.77,681.56 1164.31,681.67 1164.85,682.75 1165.39,681.36 1165.93,681.69 1166.47,681.35 1167.01,681.4 1167.55,682.47 1168.08,682.92 1168.62,681.76 1169.16,682.57 1169.7,681.84 1170.24,682.24 1170.78,681.37 1171.32,681.01 1171.86,682.52 1172.4,681.93 1172.93,681.84 1173.47,682.12 1174.01,682.38 1174.55,681.75 1175.09,682.38 1175.63,681.33 1176.17,682.63 1176.71,682.26 1177.25,682.21 1177.79,681.75 1178.33,682.09 1178.86,681.67 1179.4,682.25 1179.94,681.31 1180.48,681.72 1181.02,681.62 1181.56,682.65 1182.1,682.09 1182.64,681.56 1183.18,682.72 1183.71,681.85 1184.25,682.32 1184.79,681.79 1185.33,681.9 1185.87,682.17 1186.41,682.01 1186.95,681.77 1187.49,682.62 1188.03,682.08 1188.57,682.24 1189.11,682.67 1189.64,680.81 1190.18,681.49 1190.72,681.53 1191.26,682.08 1191.8,681.21 1192.34,682.16 1192.88,681.72 1193.42,682.27 1193.96,681.08 1194.49,682.21 1195.03,681.92 1195.57,681.77 1196.11,682.57 1196.65,681.91 1197.19,682.26 1197.73,681.22 1198.27,680.87 1198.81,681.33 1199.35,681.15 1199.88,681.12 1200.42,680.98 1200.96,682.05 1201.5,681.09 1202.04,681.56 1202.58,681.87 1203.12,681.32 1203.66,682.3 1204.2,682.24 1204.74,682.15 1205.27,682.24 1205.81,680.61 1206.35,682.48 1206.89,681.07 1207.43,680.85 1207.97,682.12 1208.51,680.87 1209.05,682.15 1209.59,682.34 1210.13,682.12 1210.66,682.34 1211.2,682.23 1211.74,681.94 1212.28,682.03 1212.82,682.31 1213.36,681.08 1213.9,680.83 1214.44,680.66 1214.98,680.83 1215.52,681.54 1216.06,682.27 1216.59,682.22 1217.13,681.67 1217.67,682.22 1218.21,681.38 1218.75,680.69 1219.29,681.81 1219.83,681.76 1220.37,682.4 1220.91,682.5 1221.44,681.51 1221.98,680.6 1222.52,681.79 1223.06,682.26 1223.6,681.49 1224.14,682.08 1224.68,681.41 1225.22,681.65 1225.76,681.7 1226.3,683.4 1226.84,685.12 1227.37,688.65 1227.91,690.14 1228.45,690.41 1228.99,691.71 1229.53,692.83 1230.07,693.4 1230.61,693.7 1231.15,693.81 1231.69,694.13 1232.22,695.45 1232.76,696.22 1233.3,696.2 1233.84,696.49 1234.38,696.59 1234.92,695.89 1235.46,696.4 1236,695.71 1236.54,695.6 1237.08,697.38 1237.62,696.3 1238.15,697.16 1238.69,696.12 1239.23,696.47 1239.77,696.5 1240.31,697.53 1240.85,696.81 1241.39,695.93 1241.93,696.86 1242.47,696.62 1243,696.52 1243.54,697.64 1244.08,696.73 1244.62,696 1245.16,696.23 1245.7,695.85 1246.24,697.2 1246.78,697.78 1247.32,697.61 1247.86,695.92 1248.39,696.38 1248.93,696.28 1249.47,697.47 1250.01,697.65 1250.55,696.12 1251.09,697.38 1251.63,697.84 1252.17,697.91 1252.71,696.02 1253.25,697.31 1253.78,696.18 1254.32,697.49 1254.86,697.76 1255.4,696.17 1255.94,697.21 1256.48,697.43 1257.02,697.68 1257.56,697.38 1258.1,696.94 1258.64,697.69 1259.17,697.69 1259.71,696.72 1260.25,698.09 1260.79,697.8 1261.33,697.37 1261.87,697.83 1262.41,696.79 1262.95,697.96 1263.49,697.56 1264.03,697.99 1264.57,696.77 1265.1,696.74 1265.64,697.39 1266.18,698 1266.72,697.9 1267.26,697.97 1267.8,696.79 1268.34,697.87 1268.88,698.09 1269.42,696.43 1269.95,697.86 1270.49,697.77 1271.03,696.75 1271.57,697.64 1272.11,696.7 1272.65,697.8 1273.19,697.22 1273.73,697.92 1274.27,696.77 1274.81,698.11 1275.35,697.36 1275.88,697.5 1276.42,696.71 1276.96,697.73 1277.5,697.46 1278.04,697.37 1278.58,696.43 1279.12,697.09 1279.66,697.61 1280.2,696.66 1280.73,697.04 1281.27,696.4 1281.81,698.34 1282.35,697.33 1282.89,696.88 1283.43,697.22 1283.97,697.9 1284.51,698.29 1285.05,696.45 1285.59,696.73 1286.12,696.48 1286.66,698.12 1287.2,698.27 1287.74,696.51 1288.28,697.17 1288.82,698.3 1289.36,697.51 1289.9,698.3 1290.44,697.17 1290.98,696.7 1291.51,698.37 1292.05,696.46 1292.59,697.09 1293.13,698.2 1293.67,696.48 1294.21,697.81 1294.75,698.36 1295.29,696.68 1295.83,698.27 1296.37,696.99 1296.9,697.91 1297.44,697.04 1297.98,696.64 1298.52,696.73 1299.06,696.68 1299.6,696.42" fill="none" stroke="#ec3a3f" stroke-width="5.2" stroke-linejoin="round"/>
<line x1="1213.09" y1="449" x2="1213.09" y2="464" stroke="#5f5f5f" stroke-width="1.5" />
<line x1="873.7" y1="389.4" x2="933.6" y2="389.4" stroke="#5f5f5f" stroke-width="1.8" />
<line x1="873.7" y1="421.6" x2="933.6" y2="421.6" stroke="#ee2a2f" stroke-width="1.8" />
<text x="941" y="398.5" font-family="Liberation Sans, sans-serif" font-weight="bold" font-size="25.7" fill="#000" text-anchor="start" >Δm</text>
<text x="941" y="431" font-family="Liberation Sans, sans-serif" font-weight="bold" font-size="25.7" fill="#000" text-anchor="start" >ΔD</text>
<line x1="1109.4" y1="454.7" x2="1038.1" y2="454.7" stroke="#000" stroke-width="3" />
<polygon points="1027.7,454.7 1040.7,448.2 1040.7,461.2" fill="#000"/>
<line x1="1027.2" y1="654.5" x2="1098.6" y2="654.5" stroke="#e8102a" stroke-width="3.2" />
<polygon points="1109,654.5 1096,648 1096,661" fill="#e8102a"/>
<text x="1019" y="561.2" font-family="Liberation Serif, serif" font-weight="bold" font-size="25.8" fill="#000" text-anchor="start" >Chitosan</text>
<text x="1019" y="592" font-family="Liberation Serif, serif" font-weight="bold" font-size="25.8" fill="#000" text-anchor="start" >adsorption</text>
<text x="0" y="0" font-family="Liberation Serif, serif" font-weight="bold" font-size="25.8" fill="#000" text-anchor="middle" transform="translate(1265.5,589.6) rotate(90)">Buffer only</text>
<line x1="121.5" y1="892.2" x2="121.5" y2="1281.7" stroke="#111" stroke-width="2" />
<line x1="120.5" y1="892.2" x2="606.8" y2="892.2" stroke="#111" stroke-width="2" />
<line x1="605.8" y1="892.2" x2="605.8" y2="1281.7" stroke="#111" stroke-width="2" />
<line x1="115" y1="1281.7" x2="606.8" y2="1281.7" stroke="#111" stroke-width="2" />
<line x1="117.5" y1="1282.35" x2="121.5" y2="1282.35" stroke="#111" stroke-width="1.6" />
<line x1="114.5" y1="1258" x2="121.5" y2="1258" stroke="#111" stroke-width="1.6" />
<text x="0" y="0" font-family="Liberation Sans, sans-serif" font-weight="bold" font-size="21.5" fill="#000" text-anchor="end" transform="translate(108.5,1264.6) scale(1,1.1)">120</text>
<line x1="117.5" y1="1233.65" x2="121.5" y2="1233.65" stroke="#111" stroke-width="1.6" />
<line x1="114.5" y1="1209.3" x2="121.5" y2="1209.3" stroke="#111" stroke-width="1.6" />
<text x="0" y="0" font-family="Liberation Sans, sans-serif" font-weight="bold" font-size="21.5" fill="#000" text-anchor="end" transform="translate(108.5,1215.9) scale(1,1.1)">130</text>
<line x1="117.5" y1="1184.95" x2="121.5" y2="1184.95" stroke="#111" stroke-width="1.6" />
<line x1="114.5" y1="1160.6" x2="121.5" y2="1160.6" stroke="#111" stroke-width="1.6" />
<text x="0" y="0" font-family="Liberation Sans, sans-serif" font-weight="bold" font-size="21.5" fill="#000" text-anchor="end" transform="translate(108.5,1167.2) scale(1,1.1)">140</text>
<line x1="117.5" y1="1136.25" x2="121.5" y2="1136.25" stroke="#111" stroke-width="1.6" />
<line x1="114.5" y1="1111.9" x2="121.5" y2="1111.9" stroke="#111" stroke-width="1.6" />
<text x="0" y="0" font-family="Liberation Sans, sans-serif" font-weight="bold" font-size="21.5" fill="#000" text-anchor="end" transform="translate(108.5,1118.5) scale(1,1.1)">150</text>
<line x1="117.5" y1="1087.55" x2="121.5" y2="1087.55" stroke="#111" stroke-width="1.6" />
<line x1="114.5" y1="1063.2" x2="121.5" y2="1063.2" stroke="#111" stroke-width="1.6" />
<text x="0" y="0" font-family="Liberation Sans, sans-serif" font-weight="bold" font-size="21.5" fill="#000" text-anchor="end" transform="translate(108.5,1069.8) scale(1,1.1)">160</text>
<line x1="117.5" y1="1038.85" x2="121.5" y2="1038.85" stroke="#111" stroke-width="1.6" />
<line x1="114.5" y1="1014.5" x2="121.5" y2="1014.5" stroke="#111" stroke-width="1.6" />
<text x="0" y="0" font-family="Liberation Sans, sans-serif" font-weight="bold" font-size="21.5" fill="#000" text-anchor="end" transform="translate(108.5,1021.1) scale(1,1.1)">170</text>
<line x1="117.5" y1="990.15" x2="121.5" y2="990.15" stroke="#111" stroke-width="1.6" />
<line x1="114.5" y1="965.8" x2="121.5" y2="965.8" stroke="#111" stroke-width="1.6" />
<text x="0" y="0" font-family="Liberation Sans, sans-serif" font-weight="bold" font-size="21.5" fill="#000" text-anchor="end" transform="translate(108.5,972.4) scale(1,1.1)">180</text>
<line x1="117.5" y1="941.45" x2="121.5" y2="941.45" stroke="#111" stroke-width="1.6" />
<line x1="114.5" y1="917.1" x2="121.5" y2="917.1" stroke="#111" stroke-width="1.6" />
<text x="0" y="0" font-family="Liberation Sans, sans-serif" font-weight="bold" font-size="21.5" fill="#000" text-anchor="end" transform="translate(108.5,923.7) scale(1,1.1)">190</text>
<line x1="117.5" y1="892.75" x2="121.5" y2="892.75" stroke="#111" stroke-width="1.6" />
<line x1="149.2" y1="1281.7" x2="149.2" y2="1289.2" stroke="#111" stroke-width="1.8" />
<line x1="160.99" y1="1281.7" x2="160.99" y2="1285.7" stroke="#111" stroke-width="1.4" />
<line x1="171.75" y1="1281.7" x2="171.75" y2="1285.7" stroke="#111" stroke-width="1.4" />
<line x1="181.65" y1="1281.7" x2="181.65" y2="1285.7" stroke="#111" stroke-width="1.4" />
<line x1="190.81" y1="1281.7" x2="190.81" y2="1285.7" stroke="#111" stroke-width="1.4" />
<line x1="199.34" y1="1281.7" x2="199.34" y2="1285.7" stroke="#111" stroke-width="1.4" />
<line x1="207.32" y1="1281.7" x2="207.32" y2="1285.7" stroke="#111" stroke-width="1.4" />
<line x1="214.82" y1="1281.7" x2="214.82" y2="1285.7" stroke="#111" stroke-width="1.4" />
<line x1="221.89" y1="1281.7" x2="221.89" y2="1285.7" stroke="#111" stroke-width="1.4" />
<line x1="228.58" y1="1281.7" x2="228.58" y2="1285.7" stroke="#111" stroke-width="1.4" />
<line x1="234.92" y1="1281.7" x2="234.92" y2="1289.2" stroke="#111" stroke-width="1.8" />
<line x1="246.71" y1="1281.7" x2="246.71" y2="1285.7" stroke="#111" stroke-width="1.4" />
<line x1="257.47" y1="1281.7" x2="257.47" y2="1285.7" stroke="#111" stroke-width="1.4" />
<line x1="267.37" y1="1281.7" x2="267.37" y2="1285.7" stroke="#111" stroke-width="1.4" />
<line x1="276.53" y1="1281.7" x2="276.53" y2="1285.7" stroke="#111" stroke-width="1.4" />
<line x1="285.06" y1="1281.7" x2="285.06" y2="1285.7" stroke="#111" stroke-width="1.4" />
<line x1="293.04" y1="1281.7" x2="293.04" y2="1285.7" stroke="#111" stroke-width="1.4" />
<line x1="300.54" y1="1281.7" x2="300.54" y2="1285.7" stroke="#111" stroke-width="1.4" />
<line x1="307.61" y1="1281.7" x2="307.61" y2="1285.7" stroke="#111" stroke-width="1.4" />
<line x1="314.3" y1="1281.7" x2="314.3" y2="1285.7" stroke="#111" stroke-width="1.4" />
<line x1="320.64" y1="1281.7" x2="320.64" y2="1289.2" stroke="#111" stroke-width="1.8" />
<line x1="332.43" y1="1281.7" x2="332.43" y2="1285.7" stroke="#111" stroke-width="1.4" />
<line x1="343.19" y1="1281.7" x2="343.19" y2="1285.7" stroke="#111" stroke-width="1.4" />
<line x1="353.09" y1="1281.7" x2="353.09" y2="1285.7" stroke="#111" stroke-width="1.4" />
<line x1="362.25" y1="1281.7" x2="362.25" y2="1285.7" stroke="#111" stroke-width="1.4" />
<line x1="370.78" y1="1281.7" x2="370.78" y2="1285.7" stroke="#111" stroke-width="1.4" />
<line x1="378.76" y1="1281.7" x2="378.76" y2="1285.7" stroke="#111" stroke-width="1.4" />
<line x1="386.26" y1="1281.7" x2="386.26" y2="1285.7" stroke="#111" stroke-width="1.4" />
<line x1="393.33" y1="1281.7" x2="393.33" y2="1285.7" stroke="#111" stroke-width="1.4" />
<line x1="400.02" y1="1281.7" x2="400.02" y2="1285.7" stroke="#111" stroke-width="1.4" />
<line x1="406.36" y1="1281.7" x2="406.36" y2="1289.2" stroke="#111" stroke-width="1.8" />
<line x1="418.15" y1="1281.7" x2="418.15" y2="1285.7" stroke="#111" stroke-width="1.4" />
<line x1="428.91" y1="1281.7" x2="428.91" y2="1285.7" stroke="#111" stroke-width="1.4" />
<line x1="438.81" y1="1281.7" x2="438.81" y2="1285.7" stroke="#111" stroke-width="1.4" />
<line x1="447.97" y1="1281.7" x2="447.97" y2="1285.7" stroke="#111" stroke-width="1.4" />
<line x1="456.5" y1="1281.7" x2="456.5" y2="1285.7" stroke="#111" stroke-width="1.4" />
<line x1="464.48" y1="1281.7" x2="464.48" y2="1285.7" stroke="#111" stroke-width="1.4" />
<line x1="471.98" y1="1281.7" x2="471.98" y2="1285.7" stroke="#111" stroke-width="1.4" />
<line x1="479.05" y1="1281.7" x2="479.05" y2="1285.7" stroke="#111" stroke-width="1.4" />
<line x1="485.74" y1="1281.7" x2="485.74" y2="1285.7" stroke="#111" stroke-width="1.4" />
<line x1="492.08" y1="1281.7" x2="492.08" y2="1289.2" stroke="#111" stroke-width="1.8" />
<line x1="503.87" y1="1281.7" x2="503.87" y2="1285.7" stroke="#111" stroke-width="1.4" />
<line x1="514.63" y1="1281.7" x2="514.63" y2="1285.7" stroke="#111" stroke-width="1.4" />
<line x1="524.53" y1="1281.7" x2="524.53" y2="1285.7" stroke="#111" stroke-width="1.4" />
<line x1="533.69" y1="1281.7" x2="533.69" y2="1285.7" stroke="#111" stroke-width="1.4" />
<line x1="542.22" y1="1281.7" x2="542.22" y2="1285.7" stroke="#111" stroke-width="1.4" />
<line x1="550.2" y1="1281.7" x2="550.2" y2="1285.7" stroke="#111" stroke-width="1.4" />
<line x1="557.7" y1="1281.7" x2="557.7" y2="1285.7" stroke="#111" stroke-width="1.4" />
<line x1="564.77" y1="1281.7" x2="564.77" y2="1285.7" stroke="#111" stroke-width="1.4" />
<line x1="571.46" y1="1281.7" x2="571.46" y2="1285.7" stroke="#111" stroke-width="1.4" />
<line x1="577.8" y1="1281.7" x2="577.8" y2="1289.2" stroke="#111" stroke-width="1.8" />
<line x1="589.59" y1="1281.7" x2="589.59" y2="1285.7" stroke="#111" stroke-width="1.4" />
<line x1="600.35" y1="1281.7" x2="600.35" y2="1285.7" stroke="#111" stroke-width="1.4" />
<text x="0" y="0" font-family="Liberation Sans, sans-serif" font-weight="bold" font-size="21.5" fill="#000" text-anchor="middle" transform="translate(149.2,1313) scale(1,1.1)">0.00625</text>
<text x="0" y="0" font-family="Liberation Sans, sans-serif" font-weight="bold" font-size="21.5" fill="#000" text-anchor="middle" transform="translate(234.92,1313) scale(1,1.1)">0.0125</text>
<text x="0" y="0" font-family="Liberation Sans, sans-serif" font-weight="bold" font-size="21.5" fill="#000" text-anchor="middle" transform="translate(320.64,1313) scale(1,1.1)">0.025</text>
<text x="0" y="0" font-family="Liberation Sans, sans-serif" font-weight="bold" font-size="21.5" fill="#000" text-anchor="middle" transform="translate(406.36,1313) scale(1,1.1)">0.05</text>
<text x="0" y="0" font-family="Liberation Sans, sans-serif" font-weight="bold" font-size="21.5" fill="#000" text-anchor="middle" transform="translate(492.08,1313) scale(1,1.1)">0.1</text>
<text x="0" y="0" font-family="Liberation Sans, sans-serif" font-weight="bold" font-size="21.5" fill="#000" text-anchor="middle" transform="translate(577.8,1313) scale(1,1.1)">0.2</text>
<text x="364" y="1353" font-family="Liberation Sans, sans-serif" font-weight="bold" font-size="25.8" fill="#000" text-anchor="middle" >Concentration (wt%)</text>
<text x="0" y="0" font-family="Liberation Sans, sans-serif" font-weight="bold" font-size="25.8" fill="#000" text-anchor="middle" transform="translate(62,1088.4) rotate(-90)">Particle diameter (nm)</text>
<polyline points="149.2,1225.31 234.92,1226.28 320.64,1211.7 406.36,1204.41 492.08,1184.97 577.8,1182.54" fill="none" stroke="#6e6e6e" stroke-width="1.5" stroke-linejoin="round"/>
<polyline points="149.2,1204.41 234.92,1196.64 320.64,1154.84 406.36,1118.88 492.08,1114.5 577.8,1080" fill="none" stroke="#f0474a" stroke-width="1.5" stroke-linejoin="round"/>
<polyline points="149.2,1191.78 234.92,1172.34 320.64,1106.24 406.36,1037.71 492.08,965.79 577.8,940.03" fill="none" stroke="#2a75e4" stroke-width="1.5" stroke-linejoin="round"/>
<line x1="577.8" y1="928.1" x2="577.8" y2="953.6" stroke="#4a8ae8" stroke-width="1.2" />
<line x1="573.8" y1="928.1" x2="581.8" y2="928.1" stroke="#4a8ae8" stroke-width="1.2" />
<line x1="573.8" y1="953.6" x2="581.8" y2="953.6" stroke="#4a8ae8" stroke-width="1.2" />
<line x1="149.2" y1="1187" x2="149.2" y2="1201" stroke="#4a8ae8" stroke-width="1" />
<line x1="145.7" y1="1187" x2="152.7" y2="1187" stroke="#4a8ae8" stroke-width="1" />
<line x1="145.7" y1="1201" x2="152.7" y2="1201" stroke="#4a8ae8" stroke-width="1" />
<rect x="143.7" y="1219.81" width="11" height="11" fill="#5c5c5c"/>
<rect x="229.42" y="1220.78" width="11" height="11" fill="#5c5c5c"/>
<rect x="315.14" y="1206.2" width="11" height="11" fill="#5c5c5c"/>
<rect x="400.86" y="1198.91" width="11" height="11" fill="#5c5c5c"/>
<rect x="486.58" y="1179.47" width="11" height="11" fill="#5c5c5c"/>
<rect x="572.3" y="1177.04" width="11" height="11" fill="#5c5c5c"/>
<circle cx="149.2" cy="1204.41" r="6.3" fill="#ee3338"/>
<circle cx="234.92" cy="1196.64" r="6.3" fill="#ee3338"/>
<circle cx="320.64" cy="1154.84" r="6.3" fill="#ee3338"/>
<circle cx="406.36" cy="1118.88" r="6.3" fill="#ee3338"/>
<circle cx="492.08" cy="1114.5" r="6.3" fill="#ee3338"/>
<circle cx="577.8" cy="1080" r="6.3" fill="#ee3338"/>
<polygon points="149.2,1184.6 156.7,1197.65 141.7,1197.65" fill="#1c6be0"/>
<polygon points="234.92,1165.16 242.42,1178.21 227.42,1178.21" fill="#1c6be0"/>
<polygon points="320.64,1099.06 328.14,1112.11 313.14,1112.11" fill="#1c6be0"/>
<polygon points="406.36,1030.54 413.86,1043.59 398.86,1043.59" fill="#1c6be0"/>
<polygon points="492.08,958.61 499.58,971.66 484.58,971.66" fill="#1c6be0"/>
<polygon points="577.8,932.85 585.3,945.9 570.3,945.9" fill="#1c6be0"/>
<line x1="144.5" y1="923.2" x2="202.9" y2="923.2" stroke="#6e6e6e" stroke-width="1.5" />
<rect x="168.3" y="917.7" width="11" height="11" fill="#5c5c5c"/>
<line x1="144.5" y1="955.6" x2="202.9" y2="955.6" stroke="#f0474a" stroke-width="1.5" />
<circle cx="173.8" cy="955.6" r="6.3" fill="#ee3338"/>
<line x1="144.5" y1="987.7" x2="202.9" y2="987.7" stroke="#2a75e4" stroke-width="1.5" />
<polygon points="173.8,980.52 181.3,993.57 166.3,993.57" fill="#1c6be0"/>
<text x="210.8" y="932.3" font-family="Liberation Sans, sans-serif" font-weight="bold" font-size="25.7" fill="#000" text-anchor="start" >chi-CLP75</text>
<text x="210.8" y="964.7" font-family="Liberation Sans, sans-serif" font-weight="bold" font-size="25.7" fill="#000" text-anchor="start" >chi-CLP100</text>
<text x="210.8" y="996.8" font-family="Liberation Sans, sans-serif" font-weight="bold" font-size="25.7" fill="#000" text-anchor="start" >chi-CLP200</text>
<line x1="834.3" y1="892.8" x2="834.3" y2="1283.5" stroke="#111" stroke-width="2" />
<line x1="833.3" y1="892.8" x2="1317.6" y2="892.8" stroke="#111" stroke-width="2" />
<line x1="1316.6" y1="892.8" x2="1316.6" y2="1283.5" stroke="#111" stroke-width="2" />
<line x1="828" y1="1283.5" x2="1317.6" y2="1283.5" stroke="#111" stroke-width="2" />
<line x1="827.3" y1="1283.5" x2="834.3" y2="1283.5" stroke="#111" stroke-width="1.6" />
<text x="0" y="0" font-family="Liberation Sans, sans-serif" font-weight="bold" font-size="21" fill="#000" text-anchor="end" transform="translate(821,1290) scale(1,1.1)">10</text>
<line x1="830.3" y1="1255.59" x2="834.3" y2="1255.59" stroke="#111" stroke-width="1.6" />
<line x1="827.3" y1="1227.69" x2="834.3" y2="1227.69" stroke="#111" stroke-width="1.6" />
<text x="0" y="0" font-family="Liberation Sans, sans-serif" font-weight="bold" font-size="21" fill="#000" text-anchor="end" transform="translate(821,1234.19) scale(1,1.1)">20</text>
<line x1="830.3" y1="1199.78" x2="834.3" y2="1199.78" stroke="#111" stroke-width="1.6" />
<line x1="827.3" y1="1171.87" x2="834.3" y2="1171.87" stroke="#111" stroke-width="1.6" />
<text x="0" y="0" font-family="Liberation Sans, sans-serif" font-weight="bold" font-size="21" fill="#000" text-anchor="end" transform="translate(821,1178.37) scale(1,1.1)">30</text>
<line x1="830.3" y1="1143.96" x2="834.3" y2="1143.96" stroke="#111" stroke-width="1.6" />
<line x1="827.3" y1="1116.06" x2="834.3" y2="1116.06" stroke="#111" stroke-width="1.6" />
<text x="0" y="0" font-family="Liberation Sans, sans-serif" font-weight="bold" font-size="21" fill="#000" text-anchor="end" transform="translate(821,1122.56) scale(1,1.1)">40</text>
<line x1="830.3" y1="1088.15" x2="834.3" y2="1088.15" stroke="#111" stroke-width="1.6" />
<line x1="827.3" y1="1060.24" x2="834.3" y2="1060.24" stroke="#111" stroke-width="1.6" />
<text x="0" y="0" font-family="Liberation Sans, sans-serif" font-weight="bold" font-size="21" fill="#000" text-anchor="end" transform="translate(821,1066.74) scale(1,1.1)">50</text>
<line x1="830.3" y1="1032.34" x2="834.3" y2="1032.34" stroke="#111" stroke-width="1.6" />
<line x1="827.3" y1="1004.43" x2="834.3" y2="1004.43" stroke="#111" stroke-width="1.6" />
<text x="0" y="0" font-family="Liberation Sans, sans-serif" font-weight="bold" font-size="21" fill="#000" text-anchor="end" transform="translate(821,1010.93) scale(1,1.1)">60</text>
<line x1="830.3" y1="976.52" x2="834.3" y2="976.52" stroke="#111" stroke-width="1.6" />
<line x1="827.3" y1="948.61" x2="834.3" y2="948.61" stroke="#111" stroke-width="1.6" />
<text x="0" y="0" font-family="Liberation Sans, sans-serif" font-weight="bold" font-size="21" fill="#000" text-anchor="end" transform="translate(821,955.11) scale(1,1.1)">70</text>
<line x1="830.3" y1="920.71" x2="834.3" y2="920.71" stroke="#111" stroke-width="1.6" />
<line x1="827.3" y1="892.8" x2="834.3" y2="892.8" stroke="#111" stroke-width="1.6" />
<text x="0" y="0" font-family="Liberation Sans, sans-serif" font-weight="bold" font-size="21" fill="#000" text-anchor="end" transform="translate(821,899.3) scale(1,1.1)">80</text>
<line x1="876.6" y1="1283.5" x2="876.6" y2="1291" stroke="#111" stroke-width="1.8" />
<text x="0" y="0" font-family="Liberation Sans, sans-serif" font-weight="bold" font-size="21.5" fill="#000" text-anchor="middle" transform="translate(876.6,1314.6) scale(1,1.1)">0.025</text>
<line x1="1008.8" y1="1283.5" x2="1008.8" y2="1291" stroke="#111" stroke-width="1.8" />
<text x="0" y="0" font-family="Liberation Sans, sans-serif" font-weight="bold" font-size="21.5" fill="#000" text-anchor="middle" transform="translate(1008.8,1314.6) scale(1,1.1)">0.05</text>
<line x1="1141" y1="1283.5" x2="1141" y2="1291" stroke="#111" stroke-width="1.8" />
<text x="0" y="0" font-family="Liberation Sans, sans-serif" font-weight="bold" font-size="21.5" fill="#000" text-anchor="middle" transform="translate(1141,1314.6) scale(1,1.1)">0.1</text>
<line x1="1273.6" y1="1283.5" x2="1273.6" y2="1291" stroke="#111" stroke-width="1.8" />
<text x="0" y="0" font-family="Liberation Sans, sans-serif" font-weight="bold" font-size="21.5" fill="#000" text-anchor="middle" transform="translate(1273.6,1314.6) scale(1,1.1)">0.2</text>
<text x="1076" y="1355" font-family="Liberation Sans, sans-serif" font-weight="bold" font-size="25.8" fill="#000" text-anchor="middle" >Concentration (wt%)</text>
<text x="0" y="0" font-family="Liberation Sans, sans-serif" font-weight="bold" font-size="25.8" fill="#000" text-anchor="middle" transform="translate(787,1089) rotate(-90)">Zeta potential (mV)</text>
<polyline points="876.6,1144.41 1008.8,1155.01 1141,1156.13 1273.6,1152.22" fill="none" stroke="#6e6e6e" stroke-width="1.5" stroke-linejoin="round"/>
<polyline points="876.6,1118.45 1008.8,1114.82 1141,1112.59 1273.6,1120.41" fill="none" stroke="#f0474a" stroke-width="1.5" stroke-linejoin="round"/>
<polyline points="876.6,1081.89 1008.8,1076.31 1141,1069.62 1273.6,1097.52" fill="none" stroke="#2a75e4" stroke-width="1.5" stroke-linejoin="round"/>
<line x1="876.6" y1="1073.52" x2="876.6" y2="1091.38" stroke="#4a8ae8" stroke-width="1.1" />
<line x1="872.6" y1="1073.52" x2="880.6" y2="1073.52" stroke="#4a8ae8" stroke-width="1.1" />
<line x1="872.6" y1="1091.38" x2="880.6" y2="1091.38" stroke="#4a8ae8" stroke-width="1.1" />
<line x1="1008.8" y1="1108.13" x2="1008.8" y2="1122.64" stroke="#e86a6a" stroke-width="1.1" />
<line x1="1004.8" y1="1108.13" x2="1012.8" y2="1108.13" stroke="#e86a6a" stroke-width="1.1" />
<line x1="1004.8" y1="1122.64" x2="1012.8" y2="1122.64" stroke="#e86a6a" stroke-width="1.1" />
<rect x="871.1" y="1138.91" width="11" height="11" fill="#5c5c5c"/>
<rect x="1003.3" y="1149.51" width="11" height="11" fill="#5c5c5c"/>
<rect x="1135.5" y="1150.63" width="11" height="11" fill="#5c5c5c"/>
<rect x="1268.1" y="1146.72" width="11" height="11" fill="#5c5c5c"/>
<circle cx="876.6" cy="1118.45" r="6.3" fill="#ee3338"/>
<circle cx="1008.8" cy="1114.82" r="6.3" fill="#ee3338"/>
<circle cx="1141" cy="1112.59" r="6.3" fill="#ee3338"/>
<circle cx="1273.6" cy="1120.41" r="6.3" fill="#ee3338"/>
<line x1="1141" y1="1064.62" x2="1141" y2="1075.62" stroke="#6a9ae8" stroke-width="1" />
<line x1="1138" y1="1064.62" x2="1144" y2="1064.62" stroke="#6a9ae8" stroke-width="1" />
<line x1="1138" y1="1075.62" x2="1144" y2="1075.62" stroke="#6a9ae8" stroke-width="1" />
<line x1="1273.6" y1="1092.52" x2="1273.6" y2="1103.52" stroke="#6a9ae8" stroke-width="1" />
<line x1="1270.6" y1="1092.52" x2="1276.6" y2="1092.52" stroke="#6a9ae8" stroke-width="1" />
<line x1="1270.6" y1="1103.52" x2="1276.6" y2="1103.52" stroke="#6a9ae8" stroke-width="1" />
<polygon points="876.6,1074.72 884.1,1087.77 869.1,1087.77" fill="#1c6be0"/>
<polygon points="1008.8,1069.14 1016.3,1082.19 1001.3,1082.19" fill="#1c6be0"/>
<polygon points="1141,1062.44 1148.5,1075.49 1133.5,1075.49" fill="#1c6be0"/>
<polygon points="1273.6,1090.34 1281.1,1103.39 1266.1,1103.39" fill="#1c6be0"/>
<line x1="849" y1="921" x2="907.6" y2="921" stroke="#6e6e6e" stroke-width="1.5" />
<rect x="872.9" y="915.5" width="11" height="11" fill="#5c5c5c"/>
<line x1="849" y1="953.5" x2="907.6" y2="953.5" stroke="#f0474a" stroke-width="1.5" />
<circle cx="878.4" cy="953.5" r="6.3" fill="#ee3338"/>
<line x1="849" y1="985.3" x2="907.6" y2="985.3" stroke="#2a75e4" stroke-width="1.5" />
<polygon points="878.4,978.12 885.9,991.17 870.9,991.17" fill="#1c6be0"/>
<text x="915.8" y="930.1" font-family="Liberation Sans, sans-serif" font-weight="bold" font-size="25.7" fill="#000" text-anchor="start" >chi-CLP75</text>
<text x="915.8" y="962.6" font-family="Liberation Sans, sans-serif" font-weight="bold" font-size="25.7" fill="#000" text-anchor="start" >chi-CLP100</text>
<text x="915.8" y="994.4" font-family="Liberation Sans, sans-serif" font-weight="bold" font-size="25.7" fill="#000" text-anchor="start" >chi-CLP200</text>
</svg></body></html>
